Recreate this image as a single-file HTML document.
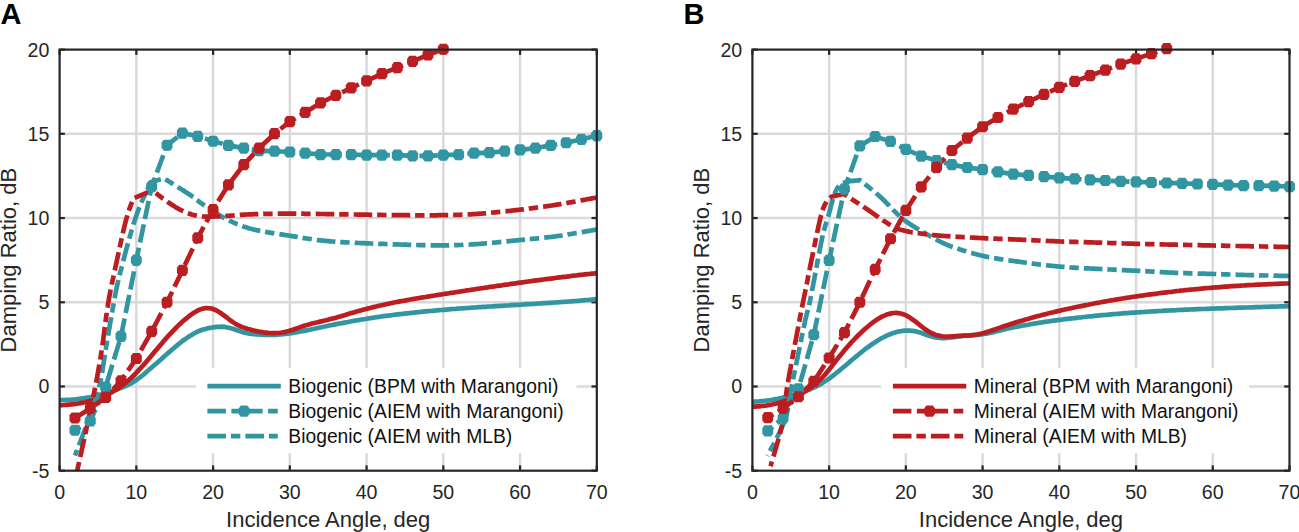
<!DOCTYPE html><html><head><meta charset="utf-8"><style>html,body{margin:0;padding:0;background:#fff;width:1299px;height:532px;overflow:hidden}svg{display:block}</style></head><body><svg width="1299" height="532" viewBox="0 0 1299 532">
<style>text{font-family:"Liberation Sans",sans-serif;fill:#262626}.tk{font-size:19.6px}.lb{font-size:22px}.lg{font-size:19.3px;fill:#111}.hd{font-size:29px;font-weight:bold;fill:#000}</style>
<defs><clipPath id="ca"><rect x="59.6" y="49.6" width="537.1999999999999" height="421.09999999999997"/></clipPath><clipPath id="cb"><rect x="752.4" y="49.6" width="537.1" height="421.09999999999997"/></clipPath></defs>
<rect width="1299" height="532" fill="#fff"/>
<line x1="136.34" y1="49.6" x2="136.34" y2="470.7" stroke="#dadada" stroke-width="2.5"/>
<line x1="213.09" y1="49.6" x2="213.09" y2="470.7" stroke="#dadada" stroke-width="2.5"/>
<line x1="289.83" y1="49.6" x2="289.83" y2="470.7" stroke="#dadada" stroke-width="2.5"/>
<line x1="366.57" y1="49.6" x2="366.57" y2="470.7" stroke="#dadada" stroke-width="2.5"/>
<line x1="443.31" y1="49.6" x2="443.31" y2="470.7" stroke="#dadada" stroke-width="2.5"/>
<line x1="520.06" y1="49.6" x2="520.06" y2="470.7" stroke="#dadada" stroke-width="2.5"/>
<line x1="59.6" y1="386.48" x2="596.8" y2="386.48" stroke="#dadada" stroke-width="2.5"/>
<line x1="59.6" y1="302.26" x2="596.8" y2="302.26" stroke="#dadada" stroke-width="2.5"/>
<line x1="59.6" y1="218.04" x2="596.8" y2="218.04" stroke="#dadada" stroke-width="2.5"/>
<line x1="59.6" y1="133.82" x2="596.8" y2="133.82" stroke="#dadada" stroke-width="2.5"/>
<line x1="59.60" y1="470.7" x2="59.60" y2="465.4" stroke="#262626" stroke-width="2.2"/>
<line x1="59.60" y1="49.6" x2="59.60" y2="54.9" stroke="#262626" stroke-width="2.2"/>
<line x1="136.34" y1="470.7" x2="136.34" y2="465.4" stroke="#262626" stroke-width="2.2"/>
<line x1="136.34" y1="49.6" x2="136.34" y2="54.9" stroke="#262626" stroke-width="2.2"/>
<line x1="213.09" y1="470.7" x2="213.09" y2="465.4" stroke="#262626" stroke-width="2.2"/>
<line x1="213.09" y1="49.6" x2="213.09" y2="54.9" stroke="#262626" stroke-width="2.2"/>
<line x1="289.83" y1="470.7" x2="289.83" y2="465.4" stroke="#262626" stroke-width="2.2"/>
<line x1="289.83" y1="49.6" x2="289.83" y2="54.9" stroke="#262626" stroke-width="2.2"/>
<line x1="366.57" y1="470.7" x2="366.57" y2="465.4" stroke="#262626" stroke-width="2.2"/>
<line x1="366.57" y1="49.6" x2="366.57" y2="54.9" stroke="#262626" stroke-width="2.2"/>
<line x1="443.31" y1="470.7" x2="443.31" y2="465.4" stroke="#262626" stroke-width="2.2"/>
<line x1="443.31" y1="49.6" x2="443.31" y2="54.9" stroke="#262626" stroke-width="2.2"/>
<line x1="520.06" y1="470.7" x2="520.06" y2="465.4" stroke="#262626" stroke-width="2.2"/>
<line x1="520.06" y1="49.6" x2="520.06" y2="54.9" stroke="#262626" stroke-width="2.2"/>
<line x1="596.80" y1="470.7" x2="596.80" y2="465.4" stroke="#262626" stroke-width="2.2"/>
<line x1="596.80" y1="49.6" x2="596.80" y2="54.9" stroke="#262626" stroke-width="2.2"/>
<line x1="59.6" y1="470.70" x2="64.9" y2="470.70" stroke="#262626" stroke-width="2.2"/>
<line x1="596.8" y1="470.70" x2="591.5" y2="470.70" stroke="#262626" stroke-width="2.2"/>
<line x1="59.6" y1="386.48" x2="64.9" y2="386.48" stroke="#262626" stroke-width="2.2"/>
<line x1="596.8" y1="386.48" x2="591.5" y2="386.48" stroke="#262626" stroke-width="2.2"/>
<line x1="59.6" y1="302.26" x2="64.9" y2="302.26" stroke="#262626" stroke-width="2.2"/>
<line x1="596.8" y1="302.26" x2="591.5" y2="302.26" stroke="#262626" stroke-width="2.2"/>
<line x1="59.6" y1="218.04" x2="64.9" y2="218.04" stroke="#262626" stroke-width="2.2"/>
<line x1="596.8" y1="218.04" x2="591.5" y2="218.04" stroke="#262626" stroke-width="2.2"/>
<line x1="59.6" y1="133.82" x2="64.9" y2="133.82" stroke="#262626" stroke-width="2.2"/>
<line x1="596.8" y1="133.82" x2="591.5" y2="133.82" stroke="#262626" stroke-width="2.2"/>
<line x1="59.6" y1="49.60" x2="64.9" y2="49.60" stroke="#262626" stroke-width="2.2"/>
<line x1="596.8" y1="49.60" x2="591.5" y2="49.60" stroke="#262626" stroke-width="2.2"/>
<g clip-path="url(#ca)" fill="none" stroke-width="4.7" stroke-linejoin="round">
<path d="M59.6,400.0 L61.9,400.0 L64.2,400.0 L66.5,399.9 L68.9,399.8 L71.2,399.7 L73.5,399.5 L75.8,399.3 L78.1,399.0 L80.4,398.7 L82.8,398.4 L85.1,398.0 L87.4,397.6 L89.7,397.2 L92.0,396.7 L94.3,396.1 L96.6,395.6 L99.0,395.0 L101.3,394.4 L103.6,393.7 L105.9,393.0 L108.2,392.3 L110.5,391.6 L112.9,390.8 L115.2,390.0 L117.5,389.2 L119.8,388.4 L122.1,387.5 L124.4,386.5 L126.8,385.5 L129.1,384.4 L131.4,383.1 L133.7,381.8 L136.0,380.2 L138.3,378.6 L140.6,376.9 L143.0,375.0 L145.3,373.1 L147.6,371.1 L149.9,369.1 L152.2,367.1 L154.5,365.1 L156.9,363.0 L159.2,360.9 L161.5,358.9 L163.8,356.8 L166.1,354.8 L168.4,352.7 L170.7,350.7 L173.1,348.7 L175.4,346.8 L177.7,344.9 L180.0,343.0 L182.3,341.2 L184.6,339.5 L187.0,337.9 L189.3,336.3 L191.6,334.9 L193.9,333.5 L196.2,332.3 L198.5,331.2 L200.8,330.3 L203.2,329.5 L205.5,328.9 L207.8,328.3 L210.1,327.9 L212.4,327.5 L214.7,327.2 L217.1,326.9 L219.4,326.8 L221.7,326.7 L224.0,326.9 L226.3,327.2 L228.6,327.7 L230.9,328.3 L233.3,329.0 L235.6,329.7 L237.9,330.5 L240.2,331.3 L242.5,332.0 L244.8,332.7 L247.2,333.3 L249.5,333.7 L251.8,334.0 L254.1,334.2 L256.4,334.4 L258.7,334.5 L261.0,334.6 L263.4,334.7 L265.7,334.8 L268.0,334.9 L270.3,334.9 L272.6,334.9 L274.9,334.8 L277.3,334.7 L279.6,334.5 L281.9,334.3 L284.2,334.0 L286.5,333.8 L288.8,333.5 L291.2,333.1 L293.5,332.8 L295.8,332.4 L298.1,332.0 L300.4,331.5 L302.7,331.1 L305.0,330.6 L307.4,330.1 L309.7,329.7 L312.0,329.2 L314.3,328.7 L316.6,328.2 L318.9,327.7 L321.3,327.2 L323.6,326.7 L325.9,326.3 L328.2,325.8 L330.5,325.3 L332.8,324.9 L335.1,324.4 L337.5,323.9 L339.8,323.5 L342.1,323.1 L344.4,322.6 L346.7,322.2 L349.0,321.8 L351.4,321.3 L353.7,320.9 L356.0,320.5 L358.3,320.1 L360.6,319.7 L362.9,319.3 L365.2,319.0 L367.6,318.6 L369.9,318.2 L372.2,317.9 L374.5,317.5 L376.8,317.2 L379.1,316.9 L381.5,316.5 L383.8,316.2 L386.1,315.9 L388.4,315.6 L390.7,315.3 L393.0,315.0 L395.3,314.7 L397.7,314.4 L400.0,314.1 L402.3,313.9 L404.6,313.6 L406.9,313.3 L409.2,313.1 L411.6,312.8 L413.9,312.6 L416.2,312.3 L418.5,312.1 L420.8,311.9 L423.1,311.6 L425.5,311.4 L427.8,311.2 L430.1,311.0 L432.4,310.8 L434.7,310.6 L437.0,310.4 L439.3,310.2 L441.7,310.0 L444.0,309.8 L446.3,309.6 L448.6,309.4 L450.9,309.2 L453.2,309.0 L455.6,308.9 L457.9,308.7 L460.2,308.5 L462.5,308.3 L464.8,308.2 L467.1,308.0 L469.4,307.9 L471.8,307.7 L474.1,307.5 L476.4,307.4 L478.7,307.2 L481.0,307.1 L483.3,306.9 L485.7,306.8 L488.0,306.6 L490.3,306.5 L492.6,306.3 L494.9,306.2 L497.2,306.1 L499.5,305.9 L501.9,305.8 L504.2,305.6 L506.5,305.5 L508.8,305.4 L511.1,305.2 L513.4,305.1 L515.8,304.9 L518.1,304.8 L520.4,304.7 L522.7,304.5 L525.0,304.4 L527.3,304.2 L529.6,304.1 L532.0,304.0 L534.3,303.8 L536.6,303.7 L538.9,303.5 L541.2,303.4 L543.5,303.2 L545.9,303.1 L548.2,302.9 L550.5,302.8 L552.8,302.6 L555.1,302.5 L557.4,302.3 L559.8,302.2 L562.1,302.0 L564.4,301.8 L566.7,301.7 L569.0,301.5 L571.3,301.3 L573.6,301.1 L576.0,301.0 L578.3,300.8 L580.6,300.6 L582.9,300.4 L585.2,300.2 L587.5,300.0 L589.9,299.8 L592.2,299.6 L594.5,299.4 L596.8,299.2" stroke="#3195a2"/>
<path d="M59.6,405.3 L61.9,405.2 L64.2,405.0 L66.5,404.8 L68.9,404.6 L71.2,404.4 L73.5,404.1 L75.8,403.8 L78.1,403.5 L80.4,403.1 L82.8,402.6 L85.1,402.2 L87.4,401.6 L89.7,401.1 L92.0,400.4 L94.3,399.7 L96.6,399.0 L99.0,398.1 L101.3,397.2 L103.6,396.3 L105.9,395.2 L108.2,394.1 L110.5,392.9 L112.9,391.6 L115.2,390.2 L117.5,388.7 L119.8,387.1 L122.1,385.5 L124.4,383.7 L126.8,381.8 L129.1,379.8 L131.4,377.7 L133.7,375.5 L136.0,373.2 L138.3,370.7 L140.6,368.2 L143.0,365.6 L145.3,362.9 L147.6,360.2 L149.9,357.5 L152.2,354.7 L154.5,351.9 L156.9,349.2 L159.2,346.4 L161.5,343.7 L163.8,341.0 L166.1,338.4 L168.4,335.8 L170.7,333.3 L173.1,330.8 L175.4,328.5 L177.7,326.2 L180.0,323.9 L182.3,321.8 L184.6,319.8 L187.0,317.9 L189.3,316.0 L191.6,314.3 L193.9,312.8 L196.2,311.4 L198.5,310.2 L200.8,309.2 L203.2,308.5 L205.5,308.1 L207.8,308.0 L210.1,308.3 L212.4,308.8 L214.7,309.7 L217.1,310.8 L219.4,312.2 L221.7,313.8 L224.0,315.5 L226.3,317.2 L228.6,319.0 L230.9,320.8 L233.3,322.4 L235.6,323.9 L237.9,325.1 L240.2,326.2 L242.5,327.1 L244.8,327.9 L247.2,328.7 L249.5,329.3 L251.8,329.9 L254.1,330.5 L256.4,331.0 L258.7,331.5 L261.0,331.9 L263.4,332.3 L265.7,332.6 L268.0,332.9 L270.3,333.0 L272.6,333.1 L274.9,333.1 L277.3,333.0 L279.6,332.8 L281.9,332.5 L284.2,332.1 L286.5,331.6 L288.8,331.0 L291.2,330.2 L293.5,329.5 L295.8,328.7 L298.1,327.9 L300.4,327.1 L302.7,326.3 L305.0,325.6 L307.4,324.9 L309.7,324.2 L312.0,323.6 L314.3,323.0 L316.6,322.5 L318.9,321.9 L321.3,321.4 L323.6,320.8 L325.9,320.3 L328.2,319.7 L330.5,319.1 L332.8,318.5 L335.1,317.9 L337.5,317.2 L339.8,316.6 L342.1,315.9 L344.4,315.2 L346.7,314.5 L349.0,313.8 L351.4,313.1 L353.7,312.4 L356.0,311.7 L358.3,311.1 L360.6,310.4 L362.9,309.8 L365.2,309.2 L367.6,308.6 L369.9,308.0 L372.2,307.4 L374.5,306.9 L376.8,306.3 L379.1,305.8 L381.5,305.3 L383.8,304.8 L386.1,304.3 L388.4,303.8 L390.7,303.3 L393.0,302.8 L395.3,302.3 L397.7,301.9 L400.0,301.4 L402.3,301.0 L404.6,300.6 L406.9,300.1 L409.2,299.7 L411.6,299.3 L413.9,298.9 L416.2,298.5 L418.5,298.1 L420.8,297.7 L423.1,297.3 L425.5,297.0 L427.8,296.6 L430.1,296.2 L432.4,295.8 L434.7,295.5 L437.0,295.1 L439.3,294.7 L441.7,294.4 L444.0,294.0 L446.3,293.6 L448.6,293.3 L450.9,292.9 L453.2,292.6 L455.6,292.2 L457.9,291.9 L460.2,291.5 L462.5,291.1 L464.8,290.8 L467.1,290.4 L469.4,290.1 L471.8,289.7 L474.1,289.4 L476.4,289.0 L478.7,288.7 L481.0,288.3 L483.3,288.0 L485.7,287.6 L488.0,287.3 L490.3,286.9 L492.6,286.6 L494.9,286.3 L497.2,285.9 L499.5,285.6 L501.9,285.3 L504.2,284.9 L506.5,284.6 L508.8,284.3 L511.1,283.9 L513.4,283.6 L515.8,283.3 L518.1,282.9 L520.4,282.6 L522.7,282.3 L525.0,282.0 L527.3,281.7 L529.6,281.3 L532.0,281.0 L534.3,280.7 L536.6,280.4 L538.9,280.1 L541.2,279.8 L543.5,279.5 L545.9,279.2 L548.2,278.9 L550.5,278.6 L552.8,278.3 L555.1,278.0 L557.4,277.7 L559.8,277.4 L562.1,277.1 L564.4,276.8 L566.7,276.6 L569.0,276.3 L571.3,276.0 L573.6,275.7 L576.0,275.5 L578.3,275.2 L580.6,274.9 L582.9,274.7 L585.2,274.4 L587.5,274.1 L589.9,273.9 L592.2,273.6 L594.5,273.4 L596.8,273.1" stroke="#bb1d21"/>
<path d="M74.9,455.5 L75.3,454.6 L75.7,453.7 L76.0,452.7 L76.4,451.8 L76.8,450.9 L77.1,449.9 L77.5,449.0 L77.9,448.1 L78.2,447.1 L78.6,446.2 L78.9,445.3 L79.3,444.3 L79.7,443.4 L80.0,442.5 L80.4,441.5 L80.7,440.6 L81.1,439.7 L81.5,438.7 L81.8,437.8 L82.2,436.9 L82.5,435.9 L82.9,435.0 L83.2,434.0 L83.6,433.1 L83.9,432.2 L84.3,431.2 L84.6,430.3 L85.0,429.3 L85.3,428.4 L85.7,427.5 L86.0,426.5 L86.3,425.6 L86.7,424.6 L87.0,423.7 L87.3,422.7 L87.7,421.8 L88.0,420.9 L88.4,419.9 L88.7,419.0 L89.0,418.0 L89.4,417.1 L89.7,416.1 L90.0,415.2 L90.4,414.3 L90.7,413.3 L91.1,412.4 L91.4,411.4 L91.7,410.5 L92.1,409.5 L92.4,408.6 L92.7,407.6 L93.0,406.7 L93.4,405.7 L93.7,404.8 L94.0,403.8 L94.3,402.9 L94.7,401.9 L95.0,401.0 L95.3,400.0 L95.6,399.1 L95.9,398.1 L96.2,397.2 L96.5,396.2 L96.8,395.3 L97.1,394.3 L97.4,393.3 L97.6,392.4 L97.9,391.4 L98.2,390.5 L98.4,389.5 L98.7,388.5 L99.0,387.6 L99.2,386.6 L99.4,385.6 L99.7,384.6 L99.9,383.7 L100.1,382.7 L100.4,381.7 L100.6,380.7 L100.8,379.7 L101.0,378.8 L101.2,377.8 L101.3,376.8 L101.5,375.8 L101.7,374.8 L101.9,373.8 L102.1,372.9 L102.2,371.9 L102.4,370.9 L102.5,369.9 L102.7,368.9 L102.9,367.9 L103.0,366.9 L103.2,365.9 L103.3,364.9 L103.5,363.9 L103.6,363.0 L103.8,362.0 L103.9,361.0 L104.1,360.0 L104.2,359.0 L104.4,358.0 L104.5,357.0 L104.7,356.0 L104.8,355.0 L105.0,354.0 L105.1,353.1 L105.3,352.1 L105.4,351.1 L105.6,350.1 L105.8,349.1 L105.9,348.1 L106.1,347.1 L106.3,346.1 L106.4,345.1 L106.6,344.2 L106.8,343.2 L106.9,342.2 L107.1,341.2 L107.3,340.2 L107.4,339.2 L107.6,338.2 L107.8,337.2 L107.9,336.3 L108.1,335.3 L108.3,334.3 L108.5,333.3 L108.6,332.3 L108.8,331.3 L109.0,330.3 L109.1,329.3 L109.3,328.4 L109.5,327.4 L109.6,326.4 L109.8,325.4 L110.0,324.4 L110.1,323.4 L110.3,322.4 L110.5,321.4 L110.7,320.5 L110.8,319.5 L111.0,318.5 L111.2,317.5 L111.3,316.5 L111.5,315.5 L111.7,314.5 L111.9,313.5 L112.0,312.6 L112.2,311.6 L112.4,310.6 L112.5,309.6 L112.7,308.6 L112.9,307.6 L113.1,306.6 L113.2,305.7 L113.4,304.7 L113.6,303.7 L113.8,302.7 L114.0,301.7 L114.1,300.7 L114.3,299.7 L114.5,298.8 L114.7,297.8 L114.9,296.8 L115.0,295.8 L115.2,294.8 L115.4,293.8 L115.6,292.8 L115.8,291.9 L116.0,290.9 L116.2,289.9 L116.4,288.9 L116.6,287.9 L116.8,287.0 L117.0,286.0 L117.2,285.0 L117.5,284.0 L117.7,283.1 L117.9,282.1 L118.2,281.1 L118.4,280.1 L118.6,279.2 L118.9,278.2 L119.1,277.2 L119.4,276.2 L119.6,275.3 L119.8,274.3 L120.1,273.3 L120.3,272.3 L120.6,271.4 L120.8,270.4 L121.1,269.4 L121.3,268.5 L121.6,267.5 L121.8,266.5 L122.1,265.6 L122.3,264.6 L122.6,263.6 L122.8,262.6 L123.1,261.7 L123.3,260.7 L123.6,259.7 L123.8,258.8 L124.1,257.8 L124.3,256.8 L124.6,255.9 L124.8,254.9 L125.1,253.9 L125.3,252.9 L125.6,252.0 L125.9,251.0 L126.1,250.0 L126.4,249.1 L126.6,248.1 L126.9,247.1 L127.2,246.2 L127.4,245.2 L127.7,244.2 L127.9,243.3 L128.2,242.3 L128.5,241.3 L128.7,240.4 L129.0,239.4 L129.3,238.4 L129.6,237.5 L129.8,236.5 L130.1,235.6 L130.4,234.6 L130.7,233.6 L130.9,232.7 L131.2,231.7 L131.5,230.7 L131.8,229.8 L132.1,228.8 L132.4,227.9 L132.7,226.9 L133.0,226.0 L133.3,225.0 L133.6,224.0 L133.9,223.1 L134.2,222.1 L134.5,221.2 L134.8,220.2 L135.1,219.3 L135.4,218.3 L135.8,217.4 L136.1,216.4 L136.4,215.5 L136.7,214.5 L137.1,213.6 L137.4,212.6 L137.7,211.7 L138.1,210.8 L138.4,209.8 L138.8,208.9 L139.1,207.9 L139.5,207.0 L139.9,206.1 L140.2,205.1 L140.6,204.2 L141.0,203.3 L141.4,202.4 L141.8,201.5 L142.2,200.5 L142.6,199.6 L143.0,198.7 L143.5,197.8 L143.9,196.9 L144.3,196.0 L144.8,195.1 L145.2,194.2 L145.6,193.3 L146.1,192.4 L146.5,191.5 L146.9,190.6 L147.3,189.7 L147.7,188.8 L148.1,187.8 L148.5,186.9 L148.9,186.0 L149.3,185.1 L149.7,184.2 L150.1,183.2 L150.5,182.3 L164.0,178.3 L164.8,178.8 L165.7,179.4 L166.5,179.9 L167.4,180.4 L168.2,181.0 L169.0,181.5 L169.9,182.0 L170.7,182.6 L171.6,183.1 L172.4,183.6 L173.3,184.2 L174.1,184.7 L175.0,185.2 L175.8,185.8 L176.7,186.3 L177.5,186.8 L178.4,187.4 L179.2,187.9 L180.0,188.4 L180.9,189.0 L181.7,189.5 L182.6,190.0 L183.4,190.6 L184.3,191.1 L185.1,191.7 L185.9,192.2 L186.8,192.7 L187.6,193.3 L188.5,193.8 L189.3,194.4 L190.2,194.9 L191.0,195.5 L191.8,196.0 L192.6,196.6 L193.5,197.1 L194.3,197.7 L195.1,198.3 L195.8,198.9 L196.6,199.6 L197.4,200.2 L198.1,200.8 L198.9,201.5 L199.7,202.1 L200.5,202.7 L201.3,203.2 L202.1,203.8 L203.0,204.4 L203.8,204.9 L204.6,205.5 L205.5,206.0 L206.3,206.5 L207.2,207.1 L208.0,207.6 L208.9,208.2 L209.7,208.7 L210.5,209.2 L211.4,209.8 L212.2,210.3 L213.0,210.9 L213.9,211.5 L214.7,212.0 L215.5,212.6 L216.3,213.2 L217.2,213.7 L218.0,214.3 L218.8,214.8 L219.7,215.4 L220.5,215.9 L221.4,216.4 L222.2,216.9 L223.1,217.4 L224.0,217.9 L224.9,218.4 L225.8,218.8 L226.7,219.3 L227.5,219.7 L228.4,220.1 L229.3,220.6 L230.3,221.0 L231.2,221.4 L232.1,221.8 L233.0,222.3 L233.9,222.7 L234.8,223.1 L235.7,223.5 L236.6,223.9 L237.6,224.2 L238.5,224.6 L239.4,225.0 L240.4,225.3 L241.3,225.7 L242.2,226.0 L243.2,226.4 L244.1,226.7 L245.1,227.0 L246.0,227.3 L247.0,227.6 L247.9,227.9 L248.9,228.2 L249.8,228.5 L250.8,228.8 L251.8,229.0 L252.7,229.3 L253.7,229.5 L254.7,229.7 L255.7,230.0 L256.6,230.2 L257.6,230.4 L258.6,230.6 L259.6,230.8 L260.6,231.0 L261.5,231.2 L262.5,231.4 L263.5,231.5 L264.5,231.7 L265.5,231.9 L266.5,232.1 L267.4,232.2 L268.4,232.4 L269.4,232.6 L270.4,232.7 L271.4,232.9 L272.4,233.1 L273.4,233.2 L274.4,233.4 L275.3,233.5 L276.3,233.7 L277.3,233.8 L278.3,234.0 L279.3,234.1 L280.3,234.3 L281.3,234.4 L282.3,234.6 L283.3,234.7 L284.2,234.9 L285.2,235.0 L286.2,235.2 L287.2,235.3 L288.2,235.5 L289.2,235.6 L290.2,235.8 L291.2,235.9 L292.1,236.1 L293.1,236.3 L294.1,236.4 L295.1,236.6 L296.1,236.8 L297.1,236.9 L298.1,237.1 L299.1,237.2 L300.0,237.4 L301.0,237.6 L302.0,237.7 L303.0,237.9 L304.0,238.1 L305.0,238.2 L306.0,238.4 L307.0,238.5 L307.9,238.7 L308.9,238.8 L309.9,239.0 L310.9,239.1 L311.9,239.3 L312.9,239.4 L313.9,239.6 L314.9,239.7 L315.9,239.8 L316.9,240.0 L317.8,240.1 L318.8,240.2 L319.8,240.3 L320.8,240.4 L321.8,240.5 L322.8,240.6 L323.8,240.8 L324.8,240.9 L325.8,240.9 L326.8,241.0 L327.8,241.1 L328.8,241.2 L329.8,241.3 L330.8,241.4 L331.8,241.5 L332.8,241.5 L333.8,241.6 L334.8,241.7 L335.8,241.8 L336.8,241.8 L337.8,241.9 L338.8,242.0 L339.8,242.0 L340.8,242.1 L341.8,242.1 L342.8,242.2 L343.8,242.3 L344.8,242.3 L345.8,242.4 L346.8,242.4 L347.8,242.5 L348.8,242.5 L349.8,242.6 L350.8,242.6 L351.8,242.7 L352.8,242.7 L353.7,242.8 L354.7,242.8 L355.7,242.9 L356.7,242.9 L357.7,243.0 L358.7,243.0 L359.7,243.0 L360.7,243.1 L361.7,243.1 L362.7,243.2 L363.7,243.2 L364.7,243.2 L365.7,243.3 L366.7,243.3 L367.7,243.4 L368.7,243.4 L369.7,243.4 L370.7,243.5 L371.7,243.5 L372.7,243.6 L373.7,243.6 L374.7,243.6 L375.7,243.7 L376.7,243.7 L377.7,243.7 L378.7,243.8 L379.7,243.8 L380.7,243.8 L381.7,243.9 L382.7,243.9 L383.7,243.9 L384.7,244.0 L385.7,244.0 L386.7,244.1 L387.7,244.1 L388.7,244.1 L389.7,244.2 L390.7,244.2 L391.7,244.2 L392.7,244.3 L393.7,244.3 L394.7,244.3 L395.7,244.4 L396.7,244.4 L397.7,244.4 L398.7,244.5 L399.7,244.5 L400.7,244.5 L401.7,244.6 L402.7,244.6 L403.7,244.6 L404.7,244.7 L405.7,244.7 L406.7,244.7 L407.7,244.8 L408.7,244.8 L409.7,244.8 L410.7,244.8 L411.7,244.9 L412.7,244.9 L413.7,244.9 L414.7,245.0 L415.7,245.0 L416.7,245.0 L417.7,245.0 L418.7,245.1 L419.7,245.1 L420.7,245.1 L421.7,245.1 L422.7,245.2 L423.7,245.2 L424.7,245.2 L425.7,245.2 L426.7,245.2 L427.7,245.2 L428.7,245.3 L429.7,245.3 L430.7,245.3 L431.7,245.3 L432.7,245.3 L433.7,245.3 L434.7,245.3 L435.7,245.3 L436.7,245.3 L437.7,245.3 L438.7,245.3 L439.7,245.3 L440.7,245.3 L441.7,245.3 L442.7,245.3 L443.7,245.3 L444.7,245.3 L445.7,245.3 L446.7,245.3 L447.7,245.3 L448.7,245.3 L449.7,245.2 L450.7,245.2 L451.7,245.2 L452.7,245.2 L453.7,245.2 L454.7,245.1 L455.7,245.1 L456.7,245.1 L457.7,245.1 L458.7,245.0 L459.7,245.0 L460.7,245.0 L461.7,244.9 L462.7,244.9 L463.7,244.8 L464.7,244.8 L465.7,244.7 L466.7,244.7 L467.7,244.6 L468.7,244.6 L469.7,244.5 L470.7,244.5 L471.7,244.4 L472.7,244.4 L473.7,244.3 L474.7,244.2 L475.7,244.2 L476.7,244.1 L477.7,244.0 L478.7,244.0 L479.7,243.9 L480.7,243.8 L481.7,243.7 L482.7,243.7 L483.7,243.6 L484.7,243.5 L485.7,243.4 L486.7,243.3 L487.7,243.3 L488.7,243.2 L489.7,243.1 L490.7,243.0 L491.7,242.9 L492.7,242.8 L493.7,242.7 L494.7,242.6 L495.7,242.5 L496.7,242.4 L497.6,242.3 L498.6,242.2 L499.6,242.1 L500.6,242.0 L501.6,241.9 L502.6,241.8 L503.6,241.7 L504.6,241.6 L505.6,241.5 L506.6,241.4 L507.6,241.3 L508.6,241.2 L509.6,241.1 L510.6,241.0 L511.6,240.9 L512.6,240.8 L513.6,240.7 L514.6,240.6 L515.6,240.5 L516.6,240.4 L517.5,240.3 L518.5,240.2 L519.5,240.1 L520.5,240.0 L521.5,239.9 L522.5,239.8 L523.5,239.7 L524.5,239.6 L525.5,239.5 L526.5,239.4 L527.5,239.3 L528.5,239.2 L529.5,239.1 L530.5,239.0 L531.5,238.9 L532.5,238.8 L533.5,238.7 L534.5,238.6 L535.5,238.6 L536.5,238.5 L537.5,238.4 L538.5,238.3 L539.5,238.2 L540.4,238.1 L541.4,238.0 L542.4,237.9 L543.4,237.7 L544.4,237.6 L545.4,237.5 L546.4,237.4 L547.4,237.3 L548.4,237.2 L549.4,237.1 L550.4,237.0 L551.4,236.9 L552.4,236.7 L553.4,236.6 L554.4,236.5 L555.4,236.4 L556.3,236.2 L557.3,236.1 L558.3,236.0 L559.3,235.8 L560.3,235.7 L561.3,235.5 L562.3,235.4 L563.3,235.2 L564.3,235.1 L565.3,234.9 L566.2,234.8 L567.2,234.6 L568.2,234.4 L569.2,234.3 L570.2,234.1 L571.2,234.0 L572.2,233.8 L573.2,233.6 L574.1,233.5 L575.1,233.3 L576.1,233.1 L577.1,233.0 L578.1,232.8 L579.1,232.6 L580.1,232.4 L581.0,232.3 L582.0,232.1 L583.0,231.9 L584.0,231.8 L585.0,231.6 L586.0,231.4 L586.9,231.2 L587.9,231.1 L588.9,230.9 L589.9,230.7 L590.9,230.5 L591.9,230.4 L592.9,230.2 L593.8,230.0 L594.8,229.8 L595.8,229.7 L596.8,229.5" stroke="#3195a2" stroke-dasharray="18.6 4.9 9.4 5.1" stroke-dashoffset="-11"/>
<path d="M75.3,479.1 L75.5,478.1 L75.8,477.2 L76.0,476.2 L76.2,475.2 L76.4,474.2 L76.6,473.3 L76.8,472.3 L77.1,471.3 L77.3,470.3 L77.5,469.4 L77.7,468.4 L77.9,467.4 L78.1,466.4 L78.4,465.4 L78.6,464.5 L78.8,463.5 L79.0,462.5 L79.2,461.5 L79.4,460.6 L79.7,459.6 L79.9,458.6 L80.1,457.6 L80.3,456.7 L80.5,455.7 L80.7,454.7 L81.0,453.7 L81.2,452.8 L81.4,451.8 L81.6,450.8 L81.8,449.8 L82.0,448.8 L82.3,447.9 L82.5,446.9 L82.7,445.9 L82.9,444.9 L83.1,444.0 L83.3,443.0 L83.5,442.0 L83.8,441.0 L84.0,440.1 L84.2,439.1 L84.4,438.1 L84.6,437.1 L84.8,436.1 L85.0,435.2 L85.3,434.2 L85.5,433.2 L85.7,432.2 L85.9,431.3 L86.1,430.3 L86.3,429.3 L86.5,428.3 L86.7,427.3 L87.0,426.4 L87.2,425.4 L87.4,424.4 L87.6,423.4 L87.8,422.5 L88.0,421.5 L88.2,420.5 L88.4,419.5 L88.7,418.5 L88.9,417.6 L89.1,416.6 L89.3,415.6 L89.5,414.6 L89.7,413.7 L89.9,412.7 L90.1,411.7 L90.3,410.7 L90.6,409.7 L90.8,408.8 L91.0,407.8 L91.2,406.8 L91.4,405.8 L91.6,404.9 L91.8,403.9 L92.0,402.9 L92.2,401.9 L92.4,400.9 L92.6,400.0 L92.8,399.0 L93.0,398.0 L93.2,397.0 L93.4,396.0 L93.6,395.1 L93.8,394.1 L94.0,393.1 L94.2,392.1 L94.4,391.1 L94.6,390.2 L94.8,389.2 L95.0,388.2 L95.2,387.2 L95.4,386.2 L95.6,385.2 L95.8,384.3 L96.0,383.3 L96.2,382.3 L96.3,381.3 L96.5,380.3 L96.7,379.4 L96.9,378.4 L97.1,377.4 L97.3,376.4 L97.4,375.4 L97.6,374.4 L97.8,373.4 L98.0,372.5 L98.2,371.5 L98.3,370.5 L98.5,369.5 L98.7,368.5 L98.8,367.5 L99.0,366.6 L99.2,365.6 L99.4,364.6 L99.5,363.6 L99.7,362.6 L99.9,361.6 L100.0,360.6 L100.2,359.6 L100.3,358.7 L100.5,357.7 L100.7,356.7 L100.8,355.7 L101.0,354.7 L101.1,353.7 L101.3,352.7 L101.4,351.7 L101.6,350.8 L101.7,349.8 L101.9,348.8 L102.0,347.8 L102.2,346.8 L102.3,345.8 L102.5,344.8 L102.6,343.8 L102.8,342.8 L102.9,341.8 L103.0,340.9 L103.2,339.9 L103.3,338.9 L103.4,337.9 L103.6,336.9 L103.7,335.9 L103.8,334.9 L103.9,333.9 L104.1,332.9 L104.2,331.9 L104.3,330.9 L104.4,329.9 L104.6,328.9 L104.7,328.0 L104.8,327.0 L105.0,326.0 L105.1,325.0 L105.2,324.0 L105.3,323.0 L105.5,322.0 L105.6,321.0 L105.7,320.0 L105.9,319.0 L106.0,318.0 L106.1,317.0 L106.3,316.1 L106.4,315.1 L106.5,314.1 L106.7,313.1 L106.8,312.1 L107.0,311.1 L107.1,310.1 L107.3,309.1 L107.4,308.1 L107.6,307.1 L107.7,306.2 L107.9,305.2 L108.0,304.2 L108.2,303.2 L108.4,302.2 L108.5,301.2 L108.7,300.2 L108.9,299.3 L109.0,298.3 L109.2,297.3 L109.4,296.3 L109.6,295.3 L109.8,294.3 L110.0,293.3 L110.1,292.4 L110.3,291.4 L110.5,290.4 L110.7,289.4 L110.9,288.4 L111.1,287.5 L111.3,286.5 L111.5,285.5 L111.7,284.5 L111.9,283.5 L112.1,282.6 L112.3,281.6 L112.5,280.6 L112.7,279.6 L113.0,278.6 L113.2,277.7 L113.4,276.7 L113.6,275.7 L113.8,274.7 L114.0,273.8 L114.2,272.8 L114.4,271.8 L114.6,270.8 L114.9,269.8 L115.1,268.9 L115.3,267.9 L115.5,266.9 L115.7,265.9 L115.9,265.0 L116.1,264.0 L116.4,263.0 L116.6,262.0 L116.8,261.0 L117.0,260.1 L117.2,259.1 L117.4,258.1 L117.6,257.1 L117.8,256.2 L118.0,255.2 L118.3,254.2 L118.5,253.2 L118.7,252.2 L118.9,251.3 L119.1,250.3 L119.3,249.3 L119.5,248.3 L119.7,247.4 L119.9,246.4 L120.2,245.4 L120.4,244.4 L120.6,243.4 L120.8,242.5 L121.0,241.5 L121.2,240.5 L121.4,239.5 L121.7,238.6 L121.9,237.6 L122.1,236.6 L122.3,235.6 L122.5,234.7 L122.8,233.7 L123.0,232.7 L123.2,231.7 L123.4,230.8 L123.6,229.8 L123.9,228.8 L124.1,227.8 L124.3,226.9 L124.6,225.9 L124.8,224.9 L125.0,223.9 L125.3,223.0 L125.5,222.0 L125.8,221.0 L126.0,220.1 L126.3,219.1 L126.5,218.1 L126.8,217.2 L127.1,216.2 L127.4,215.2 L127.6,214.3 L127.9,213.3 L128.2,212.4 L128.5,211.4 L128.9,210.5 L129.2,209.5 L129.5,208.6 L129.9,207.6 L130.2,206.7 L130.6,205.8 L130.9,204.8 L131.3,203.9 L131.7,203.0 L132.0,202.1 L132.4,201.1 L132.8,200.2 L133.1,199.3 L133.5,198.3 L152.5,190.4 L153.2,191.0 L154.0,191.7 L154.8,192.3 L155.6,192.9 L156.4,193.5 L157.2,194.1 L158.0,194.8 L158.8,195.4 L159.6,196.0 L160.4,196.6 L161.2,197.2 L162.0,197.8 L162.8,198.4 L163.6,198.9 L164.4,199.5 L165.2,200.1 L166.0,200.7 L166.9,201.3 L167.7,201.9 L168.5,202.4 L169.3,203.0 L170.1,203.6 L171.0,204.1 L171.8,204.7 L172.6,205.3 L173.5,205.8 L174.3,206.3 L175.2,206.9 L176.0,207.4 L176.9,207.9 L177.8,208.4 L178.6,208.9 L179.5,209.3 L180.4,209.8 L181.3,210.2 L182.2,210.7 L183.1,211.1 L184.0,211.5 L185.0,211.9 L185.9,212.3 L186.8,212.7 L187.7,213.1 L188.7,213.4 L189.6,213.7 L190.6,214.1 L191.5,214.4 L192.5,214.7 L193.4,214.9 L194.4,215.2 L195.4,215.4 L196.3,215.6 L197.3,215.8 L198.3,216.0 L199.3,216.2 L200.3,216.3 L201.3,216.4 L202.3,216.5 L203.3,216.5 L204.3,216.6 L205.3,216.6 L206.3,216.7 L207.3,216.7 L208.3,216.7 L209.3,216.7 L210.3,216.7 L211.3,216.6 L212.3,216.6 L213.3,216.6 L214.3,216.6 L215.3,216.5 L216.3,216.5 L217.3,216.5 L218.3,216.4 L219.3,216.4 L220.3,216.3 L221.3,216.3 L222.3,216.2 L223.3,216.2 L224.3,216.1 L225.3,216.1 L226.3,216.0 L227.3,215.9 L228.3,215.8 L229.3,215.8 L230.3,215.7 L231.3,215.6 L232.3,215.5 L233.3,215.5 L234.3,215.4 L235.3,215.3 L236.3,215.2 L237.3,215.1 L238.3,215.1 L239.3,215.0 L240.3,214.9 L241.3,214.8 L242.3,214.8 L243.3,214.7 L244.3,214.6 L245.3,214.6 L246.3,214.5 L247.3,214.5 L248.3,214.4 L249.3,214.4 L250.3,214.3 L251.3,214.3 L252.3,214.3 L253.3,214.2 L254.3,214.2 L255.3,214.2 L256.3,214.1 L257.3,214.1 L258.3,214.1 L259.3,214.0 L260.3,214.0 L261.3,214.0 L262.3,214.0 L263.3,213.9 L264.3,213.9 L265.3,213.9 L266.3,213.9 L267.3,213.9 L268.3,213.8 L269.3,213.8 L270.3,213.8 L271.3,213.8 L272.3,213.8 L273.3,213.8 L274.3,213.8 L275.3,213.7 L276.3,213.7 L277.3,213.7 L278.3,213.7 L279.4,213.7 L280.4,213.7 L281.4,213.7 L282.4,213.7 L283.4,213.7 L284.4,213.7 L285.4,213.7 L286.4,213.7 L287.4,213.7 L288.4,213.7 L289.4,213.7 L290.4,213.7 L291.4,213.7 L292.4,213.7 L293.4,213.7 L294.4,213.7 L295.4,213.7 L296.4,213.7 L297.4,213.7 L298.4,213.7 L299.4,213.7 L300.4,213.7 L301.4,213.7 L302.4,213.7 L303.4,213.7 L304.4,213.8 L305.4,213.8 L306.4,213.8 L307.4,213.8 L308.4,213.8 L309.4,213.8 L310.4,213.8 L311.4,213.8 L312.4,213.9 L313.4,213.9 L314.4,213.9 L315.4,213.9 L316.4,213.9 L317.4,213.9 L318.4,213.9 L319.4,214.0 L320.4,214.0 L321.4,214.0 L322.4,214.0 L323.4,214.0 L324.4,214.0 L325.4,214.1 L326.5,214.1 L327.5,214.1 L328.5,214.1 L329.5,214.1 L330.5,214.1 L331.5,214.2 L332.5,214.2 L333.5,214.2 L334.5,214.2 L335.5,214.2 L336.5,214.2 L337.5,214.2 L338.5,214.3 L339.5,214.3 L340.5,214.3 L341.5,214.3 L342.5,214.3 L343.5,214.3 L344.5,214.3 L345.5,214.4 L346.5,214.4 L347.5,214.4 L348.5,214.4 L349.5,214.4 L350.5,214.4 L351.5,214.5 L352.5,214.5 L353.5,214.5 L354.5,214.5 L355.5,214.5 L356.5,214.5 L357.5,214.6 L358.5,214.6 L359.5,214.6 L360.5,214.6 L361.5,214.6 L362.5,214.6 L363.5,214.7 L364.5,214.7 L365.5,214.7 L366.5,214.7 L367.5,214.7 L368.5,214.7 L369.5,214.8 L370.5,214.8 L371.5,214.8 L372.5,214.8 L373.5,214.8 L374.5,214.8 L375.5,214.9 L376.6,214.9 L377.6,214.9 L378.6,214.9 L379.6,214.9 L380.6,214.9 L381.6,214.9 L382.6,215.0 L383.6,215.0 L384.6,215.0 L385.6,215.0 L386.6,215.0 L387.6,215.0 L388.6,215.0 L389.6,215.1 L390.6,215.1 L391.6,215.1 L392.6,215.1 L393.6,215.1 L394.6,215.1 L395.6,215.1 L396.6,215.1 L397.6,215.2 L398.6,215.2 L399.6,215.2 L400.6,215.2 L401.6,215.2 L402.6,215.2 L403.6,215.2 L404.6,215.2 L405.6,215.2 L406.6,215.2 L407.6,215.2 L408.6,215.2 L409.6,215.3 L410.6,215.3 L411.6,215.3 L412.6,215.3 L413.6,215.3 L414.6,215.3 L415.6,215.3 L416.6,215.3 L417.6,215.3 L418.6,215.3 L419.6,215.3 L420.6,215.3 L421.6,215.3 L422.6,215.3 L423.7,215.3 L424.7,215.3 L425.7,215.3 L426.7,215.3 L427.7,215.3 L428.7,215.3 L429.7,215.3 L430.7,215.3 L431.7,215.3 L432.7,215.3 L433.7,215.3 L434.7,215.3 L435.7,215.3 L436.7,215.3 L437.7,215.2 L438.7,215.2 L439.7,215.2 L440.7,215.2 L441.7,215.2 L442.7,215.2 L443.7,215.2 L444.7,215.1 L445.7,215.1 L446.7,215.1 L447.7,215.1 L448.7,215.1 L449.7,215.1 L450.7,215.0 L451.7,215.0 L452.7,215.0 L453.7,215.0 L454.7,214.9 L455.7,214.9 L456.7,214.9 L457.7,214.9 L458.7,214.8 L459.7,214.8 L460.7,214.8 L461.7,214.7 L462.7,214.7 L463.7,214.6 L464.7,214.6 L465.7,214.6 L466.7,214.5 L467.7,214.5 L468.7,214.4 L469.7,214.4 L470.7,214.3 L471.7,214.3 L472.7,214.2 L473.7,214.1 L474.7,214.1 L475.7,214.0 L476.7,213.9 L477.7,213.9 L478.7,213.8 L479.7,213.7 L480.7,213.7 L481.7,213.6 L482.7,213.5 L483.7,213.4 L484.7,213.3 L485.7,213.3 L486.7,213.2 L487.7,213.1 L488.7,213.0 L489.7,212.9 L490.7,212.8 L491.7,212.7 L492.7,212.6 L493.7,212.5 L494.7,212.4 L495.7,212.3 L496.7,212.2 L497.7,212.1 L498.7,212.0 L499.7,211.9 L500.7,211.8 L501.7,211.7 L502.7,211.6 L503.7,211.5 L504.7,211.4 L505.7,211.3 L506.7,211.2 L507.7,211.1 L508.7,211.0 L509.7,210.9 L510.7,210.8 L511.7,210.7 L512.7,210.5 L513.6,210.4 L514.6,210.3 L515.6,210.2 L516.6,210.1 L517.6,210.0 L518.6,209.9 L519.6,209.7 L520.6,209.6 L521.6,209.5 L522.6,209.4 L523.6,209.3 L524.6,209.1 L525.6,209.0 L526.6,208.9 L527.6,208.8 L528.6,208.7 L529.6,208.5 L530.6,208.4 L531.6,208.3 L532.6,208.2 L533.5,208.0 L534.5,207.9 L535.5,207.8 L536.5,207.6 L537.5,207.5 L538.5,207.4 L539.5,207.2 L540.5,207.1 L541.5,207.0 L542.5,206.8 L543.5,206.7 L544.5,206.5 L545.5,206.4 L546.5,206.3 L547.4,206.1 L548.4,206.0 L549.4,205.8 L550.4,205.7 L551.4,205.5 L552.4,205.4 L553.4,205.2 L554.4,205.1 L555.4,204.9 L556.4,204.8 L557.4,204.6 L558.3,204.4 L559.3,204.3 L560.3,204.1 L561.3,204.0 L562.3,203.8 L563.3,203.6 L564.3,203.5 L565.3,203.3 L566.2,203.1 L567.2,202.9 L568.2,202.8 L569.2,202.6 L570.2,202.4 L571.2,202.2 L572.2,202.1 L573.2,201.9 L574.1,201.7 L575.1,201.5 L576.1,201.3 L577.1,201.2 L578.1,201.0 L579.1,200.8 L580.1,200.6 L581.0,200.4 L582.0,200.3 L583.0,200.1 L584.0,199.9 L585.0,199.7 L586.0,199.5 L586.9,199.3 L587.9,199.1 L588.9,199.0 L589.9,198.8 L590.9,198.6 L591.9,198.4 L592.9,198.2 L593.8,198.0 L594.8,197.9 L595.8,197.7 L596.8,197.5" stroke="#bb1d21" stroke-dasharray="18.6 4.9 9.4 5.1" stroke-dashoffset="15.4"/>
<path d="M74.9,430.3 L90.3,421.0 L105.6,387.0 L121.0,336.3 L136.3,260.1 L151.7,186.5 L167.0,145.3 L182.4,133.1 L197.7,136.3 L213.1,141.2 L228.4,145.4 L243.8,148.1 L259.1,150.7 L274.5,151.2 L289.8,152.0 L305.2,153.2 L320.5,154.5 L335.9,154.5 L351.2,154.5 L366.6,155.2 L381.9,155.2 L397.3,155.2 L412.6,155.9 L428.0,155.9 L443.3,155.2 L458.7,154.5 L474.0,153.2 L489.4,152.7 L504.7,151.2 L520.1,149.8 L535.4,148.1 L550.8,145.4 L566.1,142.7 L581.5,139.4 L596.8,135.7" stroke="#3195a2" stroke-dasharray="18.5 5.5" stroke-dashoffset="12"/>
<path d="M74.9,418.0 L90.3,408.4 L105.6,397.4 L121.0,380.9 L136.3,358.5 L151.7,331.4 L167.0,302.3 L182.4,270.4 L197.7,237.9 L213.1,209.6 L228.4,184.9 L243.8,164.6 L259.1,148.1 L274.5,133.7 L289.8,121.7 L305.2,112.4 L320.5,102.8 L335.9,95.4 L351.2,87.8 L366.6,80.9 L381.9,73.7 L397.3,67.6 L412.6,61.4 L428.0,54.8 L443.3,49.3 L458.7,43.2 L474.0,37.5" stroke="#bb1d21" stroke-dasharray="18.5 5.5" stroke-dashoffset="0"/>
</g>
<polygon points="71.65,424.67 78.25,424.67 80.40,427.57 80.40,432.97 78.25,435.87 71.65,435.87 69.50,432.97 69.50,427.57" fill="#3195a2"/>
<polygon points="87.00,415.41 93.60,415.41 95.75,418.31 95.75,423.71 93.60,426.61 87.00,426.61 84.85,423.71 84.85,418.31" fill="#3195a2"/>
<polygon points="102.35,381.39 108.95,381.39 111.10,384.29 111.10,389.69 108.95,392.59 102.35,392.59 100.20,389.69 100.20,384.29" fill="#3195a2"/>
<polygon points="117.69,330.68 124.29,330.68 126.44,333.58 126.44,338.98 124.29,341.88 117.69,341.88 115.54,338.98 115.54,333.58" fill="#3195a2"/>
<polygon points="133.04,254.55 139.64,254.55 141.79,257.45 141.79,262.85 139.64,265.75 133.04,265.75 130.89,262.85 130.89,257.45" fill="#3195a2"/>
<polygon points="148.39,180.94 154.99,180.94 157.14,183.84 157.14,189.24 154.99,192.14 148.39,192.14 146.24,189.24 146.24,183.84" fill="#3195a2"/>
<polygon points="163.74,139.67 170.34,139.67 172.49,142.57 172.49,147.97 170.34,150.87 163.74,150.87 161.59,147.97 161.59,142.57" fill="#3195a2"/>
<polygon points="179.09,127.55 185.69,127.55 187.84,130.45 187.84,135.85 185.69,138.75 179.09,138.75 176.94,135.85 176.94,130.45" fill="#3195a2"/>
<polygon points="194.44,130.75 201.04,130.75 203.19,133.65 203.19,139.05 201.04,141.95 194.44,141.95 192.29,139.05 192.29,133.65" fill="#3195a2"/>
<polygon points="209.79,135.63 216.39,135.63 218.54,138.53 218.54,143.93 216.39,146.83 209.79,146.83 207.64,143.93 207.64,138.53" fill="#3195a2"/>
<polygon points="225.13,139.84 231.73,139.84 233.88,142.74 233.88,148.14 231.73,151.04 225.13,151.04 222.98,148.14 222.98,142.74" fill="#3195a2"/>
<polygon points="240.48,142.54 247.08,142.54 249.23,145.44 249.23,150.84 247.08,153.74 240.48,153.74 238.33,150.84 238.33,145.44" fill="#3195a2"/>
<polygon points="255.83,145.06 262.43,145.06 264.58,147.96 264.58,153.36 262.43,156.26 255.83,156.26 253.68,153.36 253.68,147.96" fill="#3195a2"/>
<polygon points="271.18,145.57 277.78,145.57 279.93,148.47 279.93,153.87 277.78,156.77 271.18,156.77 269.03,153.87 269.03,148.47" fill="#3195a2"/>
<polygon points="286.53,146.41 293.13,146.41 295.28,149.31 295.28,154.71 293.13,157.61 286.53,157.61 284.38,154.71 284.38,149.31" fill="#3195a2"/>
<polygon points="301.88,147.59 308.48,147.59 310.63,150.49 310.63,155.89 308.48,158.79 301.88,158.79 299.73,155.89 299.73,150.49" fill="#3195a2"/>
<polygon points="317.23,148.94 323.83,148.94 325.98,151.84 325.98,157.24 323.83,160.14 317.23,160.14 315.08,157.24 315.08,151.84" fill="#3195a2"/>
<polygon points="332.57,148.94 339.17,148.94 341.32,151.84 341.32,157.24 339.17,160.14 332.57,160.14 330.42,157.24 330.42,151.84" fill="#3195a2"/>
<polygon points="347.92,148.94 354.52,148.94 356.67,151.84 356.67,157.24 354.52,160.14 347.92,160.14 345.77,157.24 345.77,151.84" fill="#3195a2"/>
<polygon points="363.27,149.61 369.87,149.61 372.02,152.51 372.02,157.91 369.87,160.81 363.27,160.81 361.12,157.91 361.12,152.51" fill="#3195a2"/>
<polygon points="378.62,149.61 385.22,149.61 387.37,152.51 387.37,157.91 385.22,160.81 378.62,160.81 376.47,157.91 376.47,152.51" fill="#3195a2"/>
<polygon points="393.97,149.61 400.57,149.61 402.72,152.51 402.72,157.91 400.57,160.81 393.97,160.81 391.82,157.91 391.82,152.51" fill="#3195a2"/>
<polygon points="409.32,150.29 415.92,150.29 418.07,153.19 418.07,158.59 415.92,161.49 409.32,161.49 407.17,158.59 407.17,153.19" fill="#3195a2"/>
<polygon points="424.67,150.29 431.27,150.29 433.42,153.19 433.42,158.59 431.27,161.49 424.67,161.49 422.52,158.59 422.52,153.19" fill="#3195a2"/>
<polygon points="440.01,149.61 446.61,149.61 448.76,152.51 448.76,157.91 446.61,160.81 440.01,160.81 437.86,157.91 437.86,152.51" fill="#3195a2"/>
<polygon points="455.36,148.94 461.96,148.94 464.11,151.84 464.11,157.24 461.96,160.14 455.36,160.14 453.21,157.24 453.21,151.84" fill="#3195a2"/>
<polygon points="470.71,147.59 477.31,147.59 479.46,150.49 479.46,155.89 477.31,158.79 470.71,158.79 468.56,155.89 468.56,150.49" fill="#3195a2"/>
<polygon points="486.06,147.09 492.66,147.09 494.81,149.99 494.81,155.39 492.66,158.29 486.06,158.29 483.91,155.39 483.91,149.99" fill="#3195a2"/>
<polygon points="501.41,145.57 508.01,145.57 510.16,148.47 510.16,153.87 508.01,156.77 501.41,156.77 499.26,153.87 499.26,148.47" fill="#3195a2"/>
<polygon points="516.76,144.22 523.36,144.22 525.51,147.12 525.51,152.52 523.36,155.42 516.76,155.42 514.61,152.52 514.61,147.12" fill="#3195a2"/>
<polygon points="532.11,142.54 538.71,142.54 540.86,145.44 540.86,150.84 538.71,153.74 532.11,153.74 529.96,150.84 529.96,145.44" fill="#3195a2"/>
<polygon points="547.45,139.84 554.05,139.84 556.20,142.74 556.20,148.14 554.05,151.04 547.45,151.04 545.30,148.14 545.30,142.74" fill="#3195a2"/>
<polygon points="562.80,137.15 569.40,137.15 571.55,140.05 571.55,145.45 569.40,148.35 562.80,148.35 560.65,145.45 560.65,140.05" fill="#3195a2"/>
<polygon points="578.15,133.78 584.75,133.78 586.90,136.68 586.90,142.08 584.75,144.98 578.15,144.98 576.00,142.08 576.00,136.68" fill="#3195a2"/>
<polygon points="593.50,130.07 600.10,130.07 602.25,132.97 602.25,138.37 600.10,141.27 593.50,141.27 591.35,138.37 591.35,132.97" fill="#3195a2"/>
<polygon points="71.65,412.38 78.25,412.38 80.40,415.28 80.40,420.68 78.25,423.58 71.65,423.58 69.50,420.68 69.50,415.28" fill="#bb1d21"/>
<polygon points="87.00,402.78 93.60,402.78 95.75,405.68 95.75,411.08 93.60,413.98 87.00,413.98 84.85,411.08 84.85,405.68" fill="#bb1d21"/>
<polygon points="102.35,391.83 108.95,391.83 111.10,394.73 111.10,400.13 108.95,403.03 102.35,403.03 100.20,400.13 100.20,394.73" fill="#bb1d21"/>
<polygon points="117.69,375.32 124.29,375.32 126.44,378.22 126.44,383.62 124.29,386.52 117.69,386.52 115.54,383.62 115.54,378.22" fill="#bb1d21"/>
<polygon points="133.04,352.92 139.64,352.92 141.79,355.82 141.79,361.22 139.64,364.12 133.04,364.12 130.89,361.22 130.89,355.82" fill="#bb1d21"/>
<polygon points="148.39,325.80 154.99,325.80 157.14,328.70 157.14,334.10 154.99,337.00 148.39,337.00 146.24,334.10 146.24,328.70" fill="#bb1d21"/>
<polygon points="163.74,296.66 170.34,296.66 172.49,299.56 172.49,304.96 170.34,307.86 163.74,307.86 161.59,304.96 161.59,299.56" fill="#bb1d21"/>
<polygon points="179.09,264.82 185.69,264.82 187.84,267.72 187.84,273.12 185.69,276.02 179.09,276.02 176.94,273.12 176.94,267.72" fill="#bb1d21"/>
<polygon points="194.44,232.32 201.04,232.32 203.19,235.22 203.19,240.62 201.04,243.52 194.44,243.52 192.29,240.62 192.29,235.22" fill="#bb1d21"/>
<polygon points="209.79,204.02 216.39,204.02 218.54,206.92 218.54,212.32 216.39,215.22 209.79,215.22 207.64,212.32 207.64,206.92" fill="#bb1d21"/>
<polygon points="225.13,179.26 231.73,179.26 233.88,182.16 233.88,187.56 231.73,190.46 225.13,190.46 222.98,187.56 222.98,182.16" fill="#bb1d21"/>
<polygon points="240.48,159.04 247.08,159.04 249.23,161.94 249.23,167.34 247.08,170.24 240.48,170.24 238.33,167.34 238.33,161.94" fill="#bb1d21"/>
<polygon points="255.83,142.54 262.43,142.54 264.58,145.44 264.58,150.84 262.43,153.74 255.83,153.74 253.68,150.84 253.68,145.44" fill="#bb1d21"/>
<polygon points="271.18,128.05 277.78,128.05 279.93,130.95 279.93,136.35 277.78,139.25 271.18,139.25 269.03,136.35 269.03,130.95" fill="#bb1d21"/>
<polygon points="286.53,116.09 293.13,116.09 295.28,118.99 295.28,124.39 293.13,127.29 286.53,127.29 284.38,124.39 284.38,118.99" fill="#bb1d21"/>
<polygon points="301.88,106.83 308.48,106.83 310.63,109.73 310.63,115.13 308.48,118.03 301.88,118.03 299.73,115.13 299.73,109.73" fill="#bb1d21"/>
<polygon points="317.23,97.23 323.83,97.23 325.98,100.13 325.98,105.53 323.83,108.43 317.23,108.43 315.08,105.53 315.08,100.13" fill="#bb1d21"/>
<polygon points="332.57,89.82 339.17,89.82 341.32,92.72 341.32,98.12 339.17,101.02 332.57,101.02 330.42,98.12 330.42,92.72" fill="#bb1d21"/>
<polygon points="347.92,82.24 354.52,82.24 356.67,85.14 356.67,90.54 354.52,93.44 347.92,93.44 345.77,90.54 345.77,85.14" fill="#bb1d21"/>
<polygon points="363.27,75.33 369.87,75.33 372.02,78.23 372.02,83.63 369.87,86.53 363.27,86.53 361.12,83.63 361.12,78.23" fill="#bb1d21"/>
<polygon points="378.62,68.09 385.22,68.09 387.37,70.99 387.37,76.39 385.22,79.29 378.62,79.29 376.47,76.39 376.47,70.99" fill="#bb1d21"/>
<polygon points="393.97,62.02 400.57,62.02 402.72,64.92 402.72,70.32 400.57,73.22 393.97,73.22 391.82,70.32 391.82,64.92" fill="#bb1d21"/>
<polygon points="409.32,55.79 415.92,55.79 418.07,58.69 418.07,64.09 415.92,66.99 409.32,66.99 407.17,64.09 407.17,58.69" fill="#bb1d21"/>
<polygon points="424.67,49.22 431.27,49.22 433.42,52.12 433.42,57.52 431.27,60.42 424.67,60.42 422.52,57.52 422.52,52.12" fill="#bb1d21"/>
<polygon points="440.01,43.66 446.61,43.66 448.76,46.56 448.76,51.96 446.61,54.86 440.01,54.86 437.86,51.96 437.86,46.56" fill="#bb1d21"/>
<rect x="59.6" y="49.6" width="537.20" height="421.10" fill="none" stroke="#262626" stroke-width="2.2"/>
<text x="59.60" y="498.6" text-anchor="middle" class="tk">0</text>
<text x="136.34" y="498.6" text-anchor="middle" class="tk">10</text>
<text x="213.09" y="498.6" text-anchor="middle" class="tk">20</text>
<text x="289.83" y="498.6" text-anchor="middle" class="tk">30</text>
<text x="366.57" y="498.6" text-anchor="middle" class="tk">40</text>
<text x="443.31" y="498.6" text-anchor="middle" class="tk">50</text>
<text x="520.06" y="498.6" text-anchor="middle" class="tk">60</text>
<text x="596.80" y="498.6" text-anchor="middle" class="tk">70</text>
<text x="49.40" y="477.60" text-anchor="end" class="tk">-5</text>
<text x="49.40" y="393.38" text-anchor="end" class="tk">0</text>
<text x="49.40" y="309.16" text-anchor="end" class="tk">5</text>
<text x="49.40" y="224.94" text-anchor="end" class="tk">10</text>
<text x="49.40" y="140.72" text-anchor="end" class="tk">15</text>
<text x="49.40" y="56.50" text-anchor="end" class="tk">20</text>
<text x="328.20" y="527" text-anchor="middle" class="lb">Incidence Angle, deg</text>
<text transform="translate(16.20,260.15) rotate(-90)" text-anchor="middle" class="lb">Damping Ratio, dB</text>
<rect x="195.8" y="367.8" width="380.7" height="85.30000000000001" fill="#fff"/>
<line x1="207.4" y1="386.2" x2="280.8" y2="386.2" stroke="#3195a2" stroke-width="4.7"/>
<line x1="207.4" y1="411.2" x2="244.10000000000002" y2="411.2" stroke="#3195a2" stroke-width="4.7" stroke-dasharray="18.5 5.5"/>
<line x1="244.10000000000002" y1="411.2" x2="277.8" y2="411.2" stroke="#3195a2" stroke-width="4.7" stroke-dasharray="18.5 5.5"/>
<polygon points="240.80,405.60 247.40,405.60 249.55,408.50 249.55,413.90 247.40,416.80 240.80,416.80 238.65,413.90 238.65,408.50" fill="#3195a2"/>
<line x1="207.4" y1="436.2" x2="277.8" y2="436.2" stroke="#3195a2" stroke-width="4.7" stroke-dasharray="18.6 4.9 9.4 5.1"/>
<text x="288.3" y="392.7" class="lg">Biogenic (BPM with Marangoni)</text>
<text x="288.3" y="417.7" class="lg">Biogenic (AIEM with Marangoni)</text>
<text x="288.3" y="442.7" class="lg">Biogenic (AIEM with MLB)</text>
<line x1="829.13" y1="49.6" x2="829.13" y2="470.7" stroke="#dadada" stroke-width="2.5"/>
<line x1="905.86" y1="49.6" x2="905.86" y2="470.7" stroke="#dadada" stroke-width="2.5"/>
<line x1="982.59" y1="49.6" x2="982.59" y2="470.7" stroke="#dadada" stroke-width="2.5"/>
<line x1="1059.31" y1="49.6" x2="1059.31" y2="470.7" stroke="#dadada" stroke-width="2.5"/>
<line x1="1136.04" y1="49.6" x2="1136.04" y2="470.7" stroke="#dadada" stroke-width="2.5"/>
<line x1="1212.77" y1="49.6" x2="1212.77" y2="470.7" stroke="#dadada" stroke-width="2.5"/>
<line x1="752.4" y1="386.48" x2="1289.5" y2="386.48" stroke="#dadada" stroke-width="2.5"/>
<line x1="752.4" y1="302.26" x2="1289.5" y2="302.26" stroke="#dadada" stroke-width="2.5"/>
<line x1="752.4" y1="218.04" x2="1289.5" y2="218.04" stroke="#dadada" stroke-width="2.5"/>
<line x1="752.4" y1="133.82" x2="1289.5" y2="133.82" stroke="#dadada" stroke-width="2.5"/>
<line x1="752.40" y1="470.7" x2="752.40" y2="465.4" stroke="#262626" stroke-width="2.2"/>
<line x1="752.40" y1="49.6" x2="752.40" y2="54.9" stroke="#262626" stroke-width="2.2"/>
<line x1="829.13" y1="470.7" x2="829.13" y2="465.4" stroke="#262626" stroke-width="2.2"/>
<line x1="829.13" y1="49.6" x2="829.13" y2="54.9" stroke="#262626" stroke-width="2.2"/>
<line x1="905.86" y1="470.7" x2="905.86" y2="465.4" stroke="#262626" stroke-width="2.2"/>
<line x1="905.86" y1="49.6" x2="905.86" y2="54.9" stroke="#262626" stroke-width="2.2"/>
<line x1="982.59" y1="470.7" x2="982.59" y2="465.4" stroke="#262626" stroke-width="2.2"/>
<line x1="982.59" y1="49.6" x2="982.59" y2="54.9" stroke="#262626" stroke-width="2.2"/>
<line x1="1059.31" y1="470.7" x2="1059.31" y2="465.4" stroke="#262626" stroke-width="2.2"/>
<line x1="1059.31" y1="49.6" x2="1059.31" y2="54.9" stroke="#262626" stroke-width="2.2"/>
<line x1="1136.04" y1="470.7" x2="1136.04" y2="465.4" stroke="#262626" stroke-width="2.2"/>
<line x1="1136.04" y1="49.6" x2="1136.04" y2="54.9" stroke="#262626" stroke-width="2.2"/>
<line x1="1212.77" y1="470.7" x2="1212.77" y2="465.4" stroke="#262626" stroke-width="2.2"/>
<line x1="1212.77" y1="49.6" x2="1212.77" y2="54.9" stroke="#262626" stroke-width="2.2"/>
<line x1="1289.50" y1="470.7" x2="1289.50" y2="465.4" stroke="#262626" stroke-width="2.2"/>
<line x1="1289.50" y1="49.6" x2="1289.50" y2="54.9" stroke="#262626" stroke-width="2.2"/>
<line x1="752.4" y1="470.70" x2="757.6999999999999" y2="470.70" stroke="#262626" stroke-width="2.2"/>
<line x1="1289.5" y1="470.70" x2="1284.2" y2="470.70" stroke="#262626" stroke-width="2.2"/>
<line x1="752.4" y1="386.48" x2="757.6999999999999" y2="386.48" stroke="#262626" stroke-width="2.2"/>
<line x1="1289.5" y1="386.48" x2="1284.2" y2="386.48" stroke="#262626" stroke-width="2.2"/>
<line x1="752.4" y1="302.26" x2="757.6999999999999" y2="302.26" stroke="#262626" stroke-width="2.2"/>
<line x1="1289.5" y1="302.26" x2="1284.2" y2="302.26" stroke="#262626" stroke-width="2.2"/>
<line x1="752.4" y1="218.04" x2="757.6999999999999" y2="218.04" stroke="#262626" stroke-width="2.2"/>
<line x1="1289.5" y1="218.04" x2="1284.2" y2="218.04" stroke="#262626" stroke-width="2.2"/>
<line x1="752.4" y1="133.82" x2="757.6999999999999" y2="133.82" stroke="#262626" stroke-width="2.2"/>
<line x1="1289.5" y1="133.82" x2="1284.2" y2="133.82" stroke="#262626" stroke-width="2.2"/>
<line x1="752.4" y1="49.60" x2="757.6999999999999" y2="49.60" stroke="#262626" stroke-width="2.2"/>
<line x1="1289.5" y1="49.60" x2="1284.2" y2="49.60" stroke="#262626" stroke-width="2.2"/>
<g clip-path="url(#cb)" fill="none" stroke-width="4.7" stroke-linejoin="round">
<path d="M752.4,401.6 L754.7,401.6 L757.0,401.5 L759.3,401.4 L761.7,401.2 L764.0,401.0 L766.3,400.7 L768.6,400.3 L770.9,400.0 L773.2,399.6 L775.6,399.1 L777.9,398.7 L780.2,398.2 L782.5,397.7 L784.8,397.2 L787.1,396.6 L789.4,396.0 L791.8,395.4 L794.1,394.8 L796.4,394.1 L798.7,393.4 L801.0,392.7 L803.3,391.9 L805.6,391.0 L808.0,390.1 L810.3,389.2 L812.6,388.1 L814.9,387.1 L817.2,385.9 L819.5,384.7 L821.9,383.4 L824.2,381.9 L826.5,380.4 L828.8,378.8 L831.1,377.1 L833.4,375.3 L835.7,373.5 L838.1,371.6 L840.4,369.7 L842.7,367.8 L845.0,365.9 L847.3,363.9 L849.6,361.9 L851.9,360.0 L854.3,358.0 L856.6,356.1 L858.9,354.2 L861.2,352.3 L863.5,350.5 L865.8,348.7 L868.2,347.0 L870.5,345.3 L872.8,343.7 L875.1,342.2 L877.4,340.7 L879.7,339.3 L882.0,338.0 L884.4,336.8 L886.7,335.7 L889.0,334.7 L891.3,333.8 L893.6,332.9 L895.9,332.2 L898.3,331.6 L900.6,331.2 L902.9,330.8 L905.2,330.6 L907.5,330.5 L909.8,330.6 L912.1,330.8 L914.5,331.1 L916.8,331.7 L919.1,332.3 L921.4,333.0 L923.7,333.8 L926.0,334.7 L928.3,335.4 L930.7,336.2 L933.0,336.8 L935.3,337.4 L937.6,337.7 L939.9,338.0 L942.2,338.1 L944.6,338.1 L946.9,338.0 L949.2,337.7 L951.5,337.5 L953.8,337.1 L956.1,336.8 L958.4,336.5 L960.8,336.1 L963.1,335.9 L965.4,335.7 L967.7,335.5 L970.0,335.3 L972.3,335.1 L974.6,335.0 L977.0,334.8 L979.3,334.6 L981.6,334.3 L983.9,334.0 L986.2,333.6 L988.5,333.1 L990.9,332.6 L993.2,332.1 L995.5,331.6 L997.8,331.0 L1000.1,330.4 L1002.4,329.9 L1004.7,329.3 L1007.1,328.8 L1009.4,328.3 L1011.7,327.8 L1014.0,327.3 L1016.3,326.8 L1018.6,326.4 L1021.0,325.9 L1023.3,325.5 L1025.6,325.1 L1027.9,324.7 L1030.2,324.2 L1032.5,323.9 L1034.8,323.5 L1037.2,323.1 L1039.5,322.7 L1041.8,322.4 L1044.1,322.0 L1046.4,321.7 L1048.7,321.3 L1051.0,321.0 L1053.4,320.7 L1055.7,320.4 L1058.0,320.1 L1060.3,319.8 L1062.6,319.5 L1064.9,319.2 L1067.3,318.9 L1069.6,318.6 L1071.9,318.3 L1074.2,318.1 L1076.5,317.8 L1078.8,317.5 L1081.1,317.3 L1083.5,317.0 L1085.8,316.8 L1088.1,316.5 L1090.4,316.3 L1092.7,316.1 L1095.0,315.8 L1097.3,315.6 L1099.7,315.4 L1102.0,315.2 L1104.3,315.0 L1106.6,314.8 L1108.9,314.6 L1111.2,314.4 L1113.6,314.2 L1115.9,314.0 L1118.2,313.8 L1120.5,313.6 L1122.8,313.4 L1125.1,313.2 L1127.4,313.1 L1129.8,312.9 L1132.1,312.7 L1134.4,312.6 L1136.7,312.4 L1139.0,312.3 L1141.3,312.1 L1143.6,312.0 L1146.0,311.8 L1148.3,311.7 L1150.6,311.5 L1152.9,311.4 L1155.2,311.3 L1157.5,311.1 L1159.9,311.0 L1162.2,310.9 L1164.5,310.7 L1166.8,310.6 L1169.1,310.5 L1171.4,310.4 L1173.7,310.3 L1176.1,310.2 L1178.4,310.0 L1180.7,309.9 L1183.0,309.8 L1185.3,309.7 L1187.6,309.6 L1190.0,309.5 L1192.3,309.4 L1194.6,309.3 L1196.9,309.2 L1199.2,309.1 L1201.5,309.0 L1203.8,309.0 L1206.2,308.9 L1208.5,308.8 L1210.8,308.7 L1213.1,308.6 L1215.4,308.5 L1217.7,308.4 L1220.0,308.4 L1222.4,308.3 L1224.7,308.2 L1227.0,308.1 L1229.3,308.0 L1231.6,308.0 L1233.9,307.9 L1236.3,307.8 L1238.6,307.7 L1240.9,307.7 L1243.2,307.6 L1245.5,307.5 L1247.8,307.5 L1250.1,307.4 L1252.5,307.3 L1254.8,307.2 L1257.1,307.2 L1259.4,307.1 L1261.7,307.0 L1264.0,306.9 L1266.3,306.9 L1268.7,306.8 L1271.0,306.7 L1273.3,306.7 L1275.6,306.6 L1277.9,306.5 L1280.2,306.4 L1282.6,306.4 L1284.9,306.3 L1287.2,306.2 L1289.5,306.1" stroke="#3195a2"/>
<path d="M752.4,406.7 L754.7,406.6 L757.0,406.4 L759.3,406.3 L761.7,406.0 L764.0,405.8 L766.3,405.5 L768.6,405.1 L770.9,404.7 L773.2,404.2 L775.6,403.7 L777.9,403.1 L780.2,402.5 L782.5,401.8 L784.8,401.1 L787.1,400.2 L789.4,399.3 L791.8,398.4 L794.1,397.3 L796.4,396.2 L798.7,395.0 L801.0,393.8 L803.3,392.4 L805.6,391.0 L808.0,389.4 L810.3,387.8 L812.6,386.1 L814.9,384.3 L817.2,382.3 L819.5,380.2 L821.9,378.0 L824.2,375.5 L826.5,372.9 L828.8,370.0 L831.1,367.1 L833.4,364.0 L835.7,361.0 L838.1,358.1 L840.4,355.2 L842.7,352.4 L845.0,349.6 L847.3,347.0 L849.6,344.4 L851.9,341.8 L854.3,339.4 L856.6,337.0 L858.9,334.7 L861.2,332.5 L863.5,330.3 L865.8,328.2 L868.2,326.2 L870.5,324.3 L872.8,322.5 L875.1,320.9 L877.4,319.3 L879.7,317.9 L882.0,316.6 L884.4,315.6 L886.7,314.6 L889.0,313.9 L891.3,313.4 L893.6,313.0 L895.9,312.9 L898.3,313.1 L900.6,313.5 L902.9,314.1 L905.2,315.0 L907.5,316.2 L909.8,317.6 L912.1,319.2 L914.5,320.9 L916.8,322.7 L919.1,324.5 L921.4,326.4 L923.7,328.1 L926.0,329.8 L928.3,331.3 L930.7,332.6 L933.0,333.8 L935.3,334.7 L937.6,335.4 L939.9,335.9 L942.2,336.3 L944.6,336.5 L946.9,336.5 L949.2,336.5 L951.5,336.4 L953.8,336.3 L956.1,336.1 L958.4,335.9 L960.8,335.8 L963.1,335.7 L965.4,335.6 L967.7,335.5 L970.0,335.4 L972.3,335.2 L974.6,334.9 L977.0,334.5 L979.3,334.0 L981.6,333.5 L983.9,332.9 L986.2,332.2 L988.5,331.5 L990.9,330.8 L993.2,330.0 L995.5,329.2 L997.8,328.4 L1000.1,327.6 L1002.4,326.8 L1004.7,326.0 L1007.1,325.2 L1009.4,324.5 L1011.7,323.7 L1014.0,323.0 L1016.3,322.3 L1018.6,321.6 L1021.0,320.9 L1023.3,320.2 L1025.6,319.5 L1027.9,318.9 L1030.2,318.2 L1032.5,317.6 L1034.8,316.9 L1037.2,316.3 L1039.5,315.7 L1041.8,315.1 L1044.1,314.5 L1046.4,313.9 L1048.7,313.3 L1051.0,312.7 L1053.4,312.2 L1055.7,311.6 L1058.0,311.1 L1060.3,310.6 L1062.6,310.0 L1064.9,309.5 L1067.3,309.0 L1069.6,308.5 L1071.9,308.0 L1074.2,307.5 L1076.5,307.0 L1078.8,306.5 L1081.1,306.1 L1083.5,305.6 L1085.8,305.1 L1088.1,304.7 L1090.4,304.2 L1092.7,303.8 L1095.0,303.3 L1097.3,302.9 L1099.7,302.5 L1102.0,302.0 L1104.3,301.6 L1106.6,301.2 L1108.9,300.8 L1111.2,300.4 L1113.6,300.0 L1115.9,299.6 L1118.2,299.2 L1120.5,298.9 L1122.8,298.5 L1125.1,298.1 L1127.4,297.7 L1129.8,297.4 L1132.1,297.0 L1134.4,296.7 L1136.7,296.3 L1139.0,296.0 L1141.3,295.7 L1143.6,295.3 L1146.0,295.0 L1148.3,294.7 L1150.6,294.4 L1152.9,294.1 L1155.2,293.8 L1157.5,293.5 L1159.9,293.2 L1162.2,292.9 L1164.5,292.6 L1166.8,292.3 L1169.1,292.0 L1171.4,291.8 L1173.7,291.5 L1176.1,291.2 L1178.4,291.0 L1180.7,290.7 L1183.0,290.5 L1185.3,290.2 L1187.6,290.0 L1190.0,289.7 L1192.3,289.5 L1194.6,289.3 L1196.9,289.1 L1199.2,288.9 L1201.5,288.6 L1203.8,288.4 L1206.2,288.2 L1208.5,288.0 L1210.8,287.8 L1213.1,287.6 L1215.4,287.4 L1217.7,287.3 L1220.0,287.1 L1222.4,286.9 L1224.7,286.7 L1227.0,286.6 L1229.3,286.4 L1231.6,286.2 L1233.9,286.1 L1236.3,285.9 L1238.6,285.8 L1240.9,285.6 L1243.2,285.5 L1245.5,285.3 L1247.8,285.2 L1250.1,285.1 L1252.5,285.0 L1254.8,284.8 L1257.1,284.7 L1259.4,284.6 L1261.7,284.5 L1264.0,284.4 L1266.3,284.3 L1268.7,284.2 L1271.0,284.1 L1273.3,284.0 L1275.6,283.9 L1277.9,283.8 L1280.2,283.7 L1282.6,283.6 L1284.9,283.5 L1287.2,283.5 L1289.5,283.4" stroke="#bb1d21"/>
<path d="M767.4,455.9 L767.9,455.0 L768.4,454.1 L768.8,453.2 L769.3,452.3 L769.7,451.4 L770.2,450.6 L770.7,449.7 L771.1,448.8 L771.6,447.9 L772.1,447.0 L772.6,446.1 L773.0,445.2 L773.5,444.4 L774.0,443.5 L774.4,442.6 L774.9,441.7 L775.3,440.8 L775.8,439.9 L776.3,439.0 L776.7,438.1 L777.2,437.2 L777.6,436.4 L778.1,435.5 L778.5,434.6 L778.9,433.7 L779.4,432.8 L779.8,431.9 L780.2,431.0 L780.7,430.1 L781.1,429.1 L781.5,428.2 L781.9,427.3 L782.3,426.4 L782.7,425.5 L783.1,424.6 L783.5,423.6 L783.9,422.7 L784.2,421.8 L784.6,420.8 L784.9,419.9 L785.2,419.0 L785.5,418.0 L785.8,417.1 L786.1,416.1 L786.4,415.1 L786.7,414.2 L786.9,413.2 L787.2,412.2 L787.4,411.3 L787.6,410.3 L787.8,409.3 L788.0,408.3 L788.2,407.3 L788.3,406.4 L788.5,405.4 L788.7,404.4 L788.8,403.4 L789.0,402.4 L789.1,401.4 L789.3,400.4 L789.4,399.4 L789.6,398.4 L789.7,397.5 L789.9,396.5 L790.1,395.5 L790.2,394.5 L790.4,393.5 L790.6,392.5 L790.7,391.5 L790.9,390.6 L791.1,389.6 L791.3,388.6 L791.5,387.6 L791.7,386.6 L791.9,385.6 L792.1,384.7 L792.3,383.7 L792.5,382.7 L792.7,381.7 L792.9,380.7 L793.0,379.8 L793.2,378.8 L793.4,377.8 L793.6,376.8 L793.8,375.8 L794.0,374.8 L794.2,373.9 L794.4,372.9 L794.6,371.9 L794.8,370.9 L795.0,369.9 L795.2,369.0 L795.4,368.0 L795.6,367.0 L795.8,366.0 L796.0,365.0 L796.2,364.1 L796.4,363.1 L796.6,362.1 L796.8,361.1 L797.0,360.1 L797.2,359.2 L797.4,358.2 L797.6,357.2 L797.8,356.2 L798.0,355.2 L798.2,354.3 L798.4,353.3 L798.6,352.3 L798.8,351.3 L799.0,350.3 L799.2,349.4 L799.4,348.4 L799.6,347.4 L799.8,346.4 L800.0,345.4 L800.2,344.4 L800.4,343.5 L800.6,342.5 L800.8,341.5 L801.0,340.5 L801.2,339.5 L801.4,338.6 L801.6,337.6 L801.8,336.6 L802.0,335.6 L802.2,334.6 L802.4,333.7 L802.6,332.7 L802.8,331.7 L803.0,330.7 L803.2,329.7 L803.5,328.8 L803.7,327.8 L803.9,326.8 L804.1,325.8 L804.3,324.8 L804.5,323.9 L804.7,322.9 L804.9,321.9 L805.1,320.9 L805.3,320.0 L805.5,319.0 L805.8,318.0 L806.0,317.0 L806.2,316.1 L806.5,315.1 L806.7,314.1 L807.0,313.2 L807.3,312.2 L807.5,311.2 L807.8,310.3 L808.1,309.3 L808.4,308.4 L808.6,307.4 L808.8,306.4 L809.1,305.4 L809.3,304.5 L809.5,303.5 L809.7,302.5 L809.9,301.5 L810.1,300.6 L810.3,299.6 L810.5,298.6 L810.7,297.6 L810.9,296.6 L811.1,295.6 L811.3,294.7 L811.5,293.7 L811.7,292.7 L811.9,291.7 L812.0,290.7 L812.2,289.7 L812.4,288.8 L812.6,287.8 L812.8,286.8 L813.0,285.8 L813.2,284.8 L813.3,283.8 L813.5,282.9 L813.7,281.9 L813.9,280.9 L814.1,279.9 L814.3,278.9 L814.5,277.9 L814.6,277.0 L814.8,276.0 L815.0,275.0 L815.2,274.0 L815.4,273.0 L815.6,272.0 L815.7,271.1 L815.9,270.1 L816.1,269.1 L816.3,268.1 L816.5,267.1 L816.7,266.1 L816.9,265.2 L817.0,264.2 L817.2,263.2 L817.4,262.2 L817.6,261.2 L817.8,260.2 L818.0,259.3 L818.2,258.3 L818.3,257.3 L818.5,256.3 L818.7,255.3 L818.9,254.3 L819.1,253.4 L819.3,252.4 L819.5,251.4 L819.7,250.4 L819.8,249.4 L820.0,248.5 L820.2,247.5 L820.4,246.5 L820.6,245.5 L820.8,244.5 L821.0,243.5 L821.2,242.6 L821.4,241.6 L821.6,240.6 L821.8,239.6 L822.0,238.6 L822.2,237.7 L822.4,236.7 L822.7,235.7 L822.9,234.7 L823.1,233.8 L823.3,232.8 L823.6,231.8 L823.8,230.8 L824.1,229.9 L824.3,228.9 L824.6,228.0 L824.9,227.0 L825.2,226.0 L825.5,225.1 L825.8,224.1 L826.1,223.2 L826.5,222.2 L826.8,221.3 L827.1,220.3 L827.4,219.4 L827.7,218.4 L827.9,217.5 L828.2,216.5 L828.5,215.5 L828.7,214.6 L829.0,213.6 L829.3,212.6 L829.5,211.7 L829.8,210.7 L830.0,209.7 L830.2,208.8 L830.5,207.8 L830.7,206.8 L831.0,205.9 L831.3,204.9 L831.5,203.9 L831.8,203.0 L832.0,202.0 L832.3,201.0 L832.6,200.1 L832.8,199.1 L833.1,198.1 L833.4,197.2 L833.7,196.2 L834.1,195.3 L834.4,194.3 L834.8,193.4 L835.1,192.5 L835.5,191.6 L835.9,190.7 L836.4,189.8 L836.8,188.9 L837.3,188.1 L837.9,187.3 L838.5,186.5 L839.2,185.8 L839.9,185.1 L840.6,184.5 L841.5,184.0 L842.3,183.5 L843.2,183.1 L844.1,182.7 L845.0,182.4 L846.0,182.1 L846.9,181.8 L847.9,181.6 L848.9,181.4 L849.9,181.3 L850.9,181.1 L851.9,181.0 L852.9,180.9 L853.9,180.8 L854.8,180.7 L855.8,180.6 L856.8,180.5 L857.8,180.4 L858.8,180.2 L859.8,180.1 L860.6,180.8 L861.4,181.4 L862.2,182.0 L863.0,182.6 L863.8,183.2 L864.5,183.8 L865.3,184.5 L866.1,185.1 L866.9,185.7 L867.7,186.3 L868.5,186.9 L869.3,187.6 L870.1,188.2 L870.8,188.8 L871.6,189.4 L872.4,190.1 L873.2,190.7 L873.9,191.3 L874.7,192.0 L875.5,192.6 L876.2,193.3 L877.0,193.9 L877.8,194.6 L878.5,195.2 L879.3,195.9 L880.0,196.6 L880.7,197.3 L881.5,197.9 L882.2,198.6 L882.9,199.3 L883.6,200.0 L884.3,200.7 L885.0,201.4 L885.7,202.2 L886.4,202.9 L887.1,203.6 L887.8,204.3 L888.5,205.0 L889.2,205.7 L889.9,206.5 L890.6,207.2 L891.3,207.9 L892.0,208.6 L892.7,209.3 L893.4,210.1 L894.1,210.8 L894.8,211.5 L895.5,212.2 L896.2,212.9 L896.9,213.6 L897.6,214.3 L898.4,215.0 L899.1,215.7 L899.8,216.4 L900.6,217.0 L901.3,217.7 L902.1,218.3 L902.9,219.0 L903.6,219.6 L904.4,220.2 L905.2,220.8 L906.0,221.4 L906.8,222.0 L907.7,222.6 L908.5,223.1 L909.3,223.7 L910.2,224.2 L911.0,224.8 L911.8,225.3 L912.7,225.9 L913.5,226.4 L914.4,226.9 L915.2,227.5 L916.1,228.0 L916.9,228.5 L917.8,229.0 L918.7,229.5 L919.5,230.1 L920.4,230.6 L921.2,231.1 L922.1,231.6 L923.0,232.1 L923.9,232.5 L924.7,233.0 L925.6,233.5 L926.5,234.0 L927.4,234.5 L928.2,235.0 L929.1,235.5 L930.0,236.0 L930.8,236.5 L931.7,236.9 L932.6,237.4 L933.5,237.9 L934.3,238.4 L935.2,238.9 L936.1,239.4 L937.0,239.9 L937.8,240.4 L938.7,240.8 L939.6,241.3 L940.5,241.8 L941.4,242.2 L942.3,242.7 L943.2,243.1 L944.1,243.5 L945.0,243.9 L945.9,244.3 L946.8,244.7 L947.8,245.1 L948.7,245.5 L949.6,245.8 L950.6,246.2 L951.5,246.5 L952.4,246.9 L953.4,247.2 L954.3,247.5 L955.3,247.9 L956.2,248.2 L957.2,248.5 L958.1,248.8 L959.1,249.1 L960.0,249.4 L961.0,249.7 L961.9,250.1 L962.9,250.4 L963.8,250.7 L964.8,250.9 L965.8,251.2 L966.7,251.5 L967.7,251.8 L968.6,252.1 L969.6,252.4 L970.6,252.7 L971.5,252.9 L972.5,253.2 L973.4,253.5 L974.4,253.8 L975.4,254.0 L976.3,254.3 L977.3,254.5 L978.3,254.8 L979.3,255.0 L980.2,255.2 L981.2,255.5 L982.2,255.7 L983.2,255.9 L984.1,256.1 L985.1,256.4 L986.1,256.6 L987.1,256.8 L988.0,257.0 L989.0,257.2 L990.0,257.3 L991.0,257.5 L992.0,257.7 L993.0,257.9 L994.0,258.1 L994.9,258.2 L995.9,258.4 L996.9,258.6 L997.9,258.7 L998.9,258.9 L999.9,259.1 L1000.9,259.2 L1001.9,259.4 L1002.8,259.5 L1003.8,259.7 L1004.8,259.8 L1005.8,260.0 L1006.8,260.1 L1007.8,260.3 L1008.8,260.4 L1009.8,260.5 L1010.8,260.7 L1011.8,260.8 L1012.8,260.9 L1013.7,261.0 L1014.7,261.2 L1015.7,261.3 L1016.7,261.4 L1017.7,261.6 L1018.7,261.7 L1019.7,261.8 L1020.7,262.0 L1021.7,262.1 L1022.7,262.3 L1023.7,262.4 L1024.7,262.5 L1025.7,262.7 L1026.6,262.8 L1027.6,263.0 L1028.6,263.1 L1029.6,263.2 L1030.6,263.4 L1031.6,263.5 L1032.6,263.6 L1033.6,263.8 L1034.6,263.9 L1035.6,264.0 L1036.6,264.1 L1037.6,264.3 L1038.6,264.4 L1039.5,264.5 L1040.5,264.6 L1041.5,264.7 L1042.5,264.8 L1043.5,264.9 L1044.5,265.1 L1045.5,265.2 L1046.5,265.3 L1047.5,265.4 L1048.5,265.5 L1049.5,265.6 L1050.5,265.7 L1051.5,265.8 L1052.5,265.9 L1053.5,266.0 L1054.5,266.1 L1055.5,266.2 L1056.5,266.3 L1057.5,266.4 L1058.5,266.5 L1059.5,266.6 L1060.5,266.7 L1061.5,266.8 L1062.5,266.9 L1063.4,266.9 L1064.4,267.0 L1065.4,267.1 L1066.4,267.2 L1067.4,267.3 L1068.4,267.3 L1069.4,267.4 L1070.4,267.5 L1071.4,267.5 L1072.4,267.6 L1073.4,267.7 L1074.4,267.7 L1075.4,267.8 L1076.4,267.8 L1077.4,267.9 L1078.4,267.9 L1079.4,268.0 L1080.4,268.0 L1081.4,268.1 L1082.4,268.1 L1083.4,268.2 L1084.4,268.3 L1085.4,268.3 L1086.4,268.4 L1087.4,268.4 L1088.4,268.4 L1089.4,268.5 L1090.4,268.5 L1091.4,268.6 L1092.4,268.6 L1093.4,268.7 L1094.4,268.7 L1095.4,268.8 L1096.4,268.8 L1097.4,268.9 L1098.4,268.9 L1099.4,269.0 L1100.4,269.0 L1101.4,269.1 L1102.4,269.1 L1103.4,269.2 L1104.4,269.2 L1105.4,269.3 L1106.4,269.3 L1107.4,269.4 L1108.4,269.4 L1109.4,269.5 L1110.4,269.5 L1111.4,269.5 L1112.4,269.6 L1113.4,269.6 L1114.4,269.7 L1115.4,269.7 L1116.4,269.8 L1117.4,269.8 L1118.4,269.9 L1119.4,269.9 L1120.4,270.0 L1121.4,270.0 L1122.4,270.1 L1123.4,270.1 L1124.4,270.2 L1125.4,270.2 L1126.4,270.3 L1127.4,270.3 L1128.4,270.4 L1129.4,270.4 L1130.4,270.5 L1131.4,270.5 L1132.4,270.6 L1133.4,270.6 L1134.4,270.6 L1135.4,270.7 L1136.4,270.7 L1137.4,270.8 L1138.4,270.9 L1139.4,270.9 L1140.4,271.0 L1141.4,271.0 L1142.4,271.1 L1143.4,271.1 L1144.4,271.2 L1145.4,271.2 L1146.4,271.3 L1147.4,271.3 L1148.4,271.4 L1149.4,271.4 L1150.4,271.5 L1151.4,271.6 L1152.4,271.6 L1153.4,271.7 L1154.4,271.7 L1155.4,271.8 L1156.4,271.8 L1157.4,271.9 L1158.4,271.9 L1159.4,272.0 L1160.4,272.1 L1161.4,272.1 L1162.4,272.2 L1163.4,272.2 L1164.4,272.3 L1165.4,272.3 L1166.4,272.4 L1167.4,272.4 L1168.4,272.5 L1169.4,272.5 L1170.4,272.6 L1171.4,272.6 L1172.4,272.7 L1173.4,272.7 L1174.4,272.8 L1175.4,272.8 L1176.4,272.8 L1177.4,272.9 L1178.4,272.9 L1179.4,273.0 L1180.4,273.0 L1181.4,273.0 L1182.4,273.1 L1183.4,273.1 L1184.4,273.1 L1185.4,273.2 L1186.4,273.2 L1187.4,273.2 L1188.4,273.3 L1189.4,273.3 L1190.4,273.3 L1191.4,273.3 L1192.4,273.4 L1193.4,273.4 L1194.4,273.4 L1195.4,273.5 L1196.4,273.5 L1197.4,273.5 L1198.4,273.6 L1199.4,273.6 L1200.4,273.6 L1201.4,273.6 L1202.4,273.7 L1203.4,273.7 L1204.4,273.7 L1205.4,273.7 L1206.4,273.8 L1207.4,273.8 L1208.4,273.8 L1209.4,273.9 L1210.4,273.9 L1211.4,273.9 L1212.4,274.0 L1213.4,274.0 L1214.4,274.0 L1215.4,274.0 L1216.4,274.1 L1217.4,274.1 L1218.4,274.1 L1219.4,274.2 L1220.4,274.2 L1221.4,274.2 L1222.4,274.3 L1223.4,274.3 L1224.4,274.3 L1225.4,274.4 L1226.4,274.4 L1227.5,274.4 L1228.5,274.5 L1229.5,274.5 L1230.5,274.5 L1231.5,274.6 L1232.5,274.6 L1233.5,274.6 L1234.5,274.7 L1235.5,274.7 L1236.5,274.7 L1237.5,274.8 L1238.5,274.8 L1239.5,274.8 L1240.5,274.9 L1241.5,274.9 L1242.5,274.9 L1243.5,274.9 L1244.5,275.0 L1245.5,275.0 L1246.5,275.0 L1247.5,275.1 L1248.5,275.1 L1249.5,275.1 L1250.5,275.1 L1251.5,275.2 L1252.5,275.2 L1253.5,275.2 L1254.5,275.2 L1255.5,275.3 L1256.5,275.3 L1257.5,275.3 L1258.5,275.3 L1259.5,275.4 L1260.5,275.4 L1261.5,275.4 L1262.5,275.4 L1263.5,275.5 L1264.5,275.5 L1265.5,275.5 L1266.5,275.5 L1267.5,275.5 L1268.5,275.6 L1269.5,275.6 L1270.5,275.6 L1271.5,275.6 L1272.5,275.6 L1273.5,275.7 L1274.5,275.7 L1275.5,275.7 L1276.5,275.7 L1277.5,275.7 L1278.5,275.8 L1279.5,275.8 L1280.5,275.8 L1281.5,275.8 L1282.5,275.8 L1283.5,275.9 L1284.5,275.9 L1285.5,275.9 L1286.5,275.9 L1287.5,275.9 L1288.5,276.0 L1289.5,276.0" stroke="#3195a2" stroke-dasharray="18.6 4.9 9.4 5.1" stroke-dashoffset="18"/>
<path d="M770.5,466.3 L770.8,465.4 L771.1,464.4 L771.3,463.4 L771.6,462.5 L771.9,461.5 L772.2,460.6 L772.5,459.6 L772.8,458.6 L773.0,457.7 L773.3,456.7 L773.6,455.8 L773.9,454.8 L774.2,453.9 L774.5,452.9 L774.8,451.9 L775.0,451.0 L775.3,450.0 L775.6,449.1 L775.9,448.1 L776.2,447.1 L776.4,446.2 L776.7,445.2 L777.0,444.3 L777.3,443.3 L777.5,442.3 L777.8,441.4 L778.1,440.4 L778.4,439.4 L778.6,438.5 L778.9,437.5 L779.2,436.6 L779.4,435.6 L779.7,434.6 L779.9,433.7 L780.2,432.7 L780.5,431.7 L780.7,430.8 L781.0,429.8 L781.2,428.8 L781.4,427.8 L781.7,426.9 L781.9,425.9 L782.1,424.9 L782.4,424.0 L782.6,423.0 L782.8,422.0 L783.0,421.0 L783.2,420.0 L783.4,419.1 L783.5,418.1 L783.7,417.1 L783.9,416.1 L784.0,415.1 L784.1,414.1 L784.3,413.1 L784.4,412.1 L784.5,411.1 L784.6,410.2 L784.7,409.2 L784.8,408.2 L784.9,407.2 L785.0,406.2 L785.1,405.2 L785.2,404.2 L785.2,403.2 L785.3,402.2 L785.4,401.2 L785.5,400.2 L785.6,399.2 L785.7,398.2 L785.8,397.2 L785.9,396.2 L786.0,395.2 L786.2,394.2 L786.3,393.2 L786.4,392.2 L786.5,391.3 L786.7,390.3 L786.8,389.3 L787.0,388.3 L787.1,387.3 L787.3,386.3 L787.4,385.3 L787.6,384.3 L787.8,383.4 L787.9,382.4 L788.1,381.4 L788.3,380.4 L788.4,379.4 L788.6,378.4 L788.8,377.4 L789.0,376.5 L789.1,375.5 L789.3,374.5 L789.5,373.5 L789.7,372.5 L789.9,371.5 L790.0,370.5 L790.2,369.6 L790.4,368.6 L790.6,367.6 L790.8,366.6 L790.9,365.6 L791.1,364.6 L791.3,363.7 L791.5,362.7 L791.7,361.7 L791.8,360.7 L792.0,359.7 L792.2,358.7 L792.4,357.8 L792.6,356.8 L792.8,355.8 L792.9,354.8 L793.1,353.8 L793.3,352.9 L793.5,351.9 L793.7,350.9 L793.9,349.9 L794.1,348.9 L794.2,347.9 L794.4,347.0 L794.6,346.0 L794.8,345.0 L795.0,344.0 L795.2,343.0 L795.4,342.0 L795.5,341.1 L795.7,340.1 L795.9,339.1 L796.1,338.1 L796.3,337.1 L796.5,336.1 L796.7,335.2 L796.9,334.2 L797.0,333.2 L797.2,332.2 L797.4,331.2 L797.6,330.3 L797.8,329.3 L798.0,328.3 L798.2,327.3 L798.3,326.3 L798.5,325.3 L798.7,324.4 L798.9,323.4 L799.1,322.4 L799.3,321.4 L799.5,320.4 L799.6,319.4 L799.8,318.5 L800.0,317.5 L800.2,316.5 L800.4,315.5 L800.6,314.5 L800.8,313.5 L800.9,312.6 L801.1,311.6 L801.3,310.6 L801.5,309.6 L801.7,308.6 L801.9,307.7 L802.1,306.7 L802.3,305.7 L802.5,304.7 L802.7,303.7 L802.9,302.8 L803.1,301.8 L803.3,300.8 L803.5,299.8 L803.7,298.8 L803.9,297.9 L804.1,296.9 L804.3,295.9 L804.5,294.9 L804.7,293.9 L804.9,293.0 L805.1,292.0 L805.3,291.0 L805.5,290.0 L805.7,289.0 L805.9,288.1 L806.1,287.1 L806.3,286.1 L806.5,285.1 L806.7,284.1 L806.9,283.2 L807.1,282.2 L807.3,281.2 L807.5,280.2 L807.7,279.2 L807.8,278.3 L808.0,277.3 L808.2,276.3 L808.4,275.3 L808.6,274.3 L808.8,273.4 L809.0,272.4 L809.2,271.4 L809.4,270.4 L809.6,269.4 L809.8,268.4 L810.0,267.5 L810.2,266.5 L810.4,265.5 L810.6,264.5 L810.8,263.5 L811.0,262.6 L811.2,261.6 L811.4,260.6 L811.6,259.6 L811.8,258.6 L812.0,257.7 L812.2,256.7 L812.4,255.7 L812.6,254.7 L812.8,253.7 L813.0,252.8 L813.2,251.8 L813.4,250.8 L813.6,249.8 L813.8,248.8 L814.0,247.9 L814.2,246.9 L814.4,245.9 L814.6,244.9 L814.8,243.9 L815.0,243.0 L815.2,242.0 L815.4,241.0 L815.6,240.0 L815.8,239.1 L816.0,238.1 L816.2,237.1 L816.4,236.1 L816.6,235.1 L816.8,234.2 L817.0,233.2 L817.2,232.2 L817.4,231.2 L817.7,230.2 L817.9,229.3 L818.1,228.3 L818.3,227.3 L818.5,226.3 L818.7,225.4 L818.9,224.4 L819.2,223.4 L819.4,222.4 L819.6,221.5 L819.8,220.5 L820.1,219.5 L820.3,218.5 L820.5,217.6 L820.8,216.6 L821.0,215.6 L821.3,214.7 L821.5,213.7 L821.8,212.7 L822.1,211.8 L822.4,210.8 L822.7,209.9 L823.0,208.9 L823.3,208.0 L823.7,207.1 L824.1,206.2 L824.5,205.3 L825.0,204.4 L825.5,203.5 L826.0,202.7 L826.6,201.9 L827.1,201.0 L827.7,200.3 L828.3,199.5 L829.0,198.8 L829.7,198.1 L830.4,197.5 L831.1,196.8 L843.7,194.0 L844.6,194.5 L845.4,195.0 L846.3,195.6 L847.1,196.1 L847.9,196.7 L848.8,197.2 L849.6,197.8 L850.5,198.3 L851.3,198.9 L852.2,199.4 L853.0,200.0 L853.9,200.5 L854.7,201.1 L855.6,201.6 L856.4,202.2 L857.3,202.7 L858.1,203.3 L859.0,203.8 L859.8,204.4 L860.6,204.9 L861.5,205.5 L862.3,206.0 L863.2,206.6 L864.0,207.2 L864.9,207.7 L865.7,208.3 L866.5,208.9 L867.4,209.4 L868.2,210.0 L869.0,210.6 L869.9,211.1 L870.7,211.7 L871.5,212.3 L872.3,212.9 L873.2,213.5 L874.0,214.0 L874.8,214.6 L875.6,215.2 L876.5,215.8 L877.3,216.4 L878.1,216.9 L878.9,217.5 L879.8,218.1 L880.6,218.7 L881.4,219.2 L882.3,219.8 L883.1,220.4 L883.9,220.9 L884.8,221.5 L885.6,222.0 L886.5,222.6 L887.3,223.1 L888.2,223.7 L889.0,224.2 L889.9,224.8 L890.7,225.3 L891.6,225.8 L892.4,226.4 L893.3,226.9 L894.2,227.4 L895.0,228.0 L895.9,228.5 L896.9,228.7 L897.8,229.0 L898.8,229.2 L899.8,229.5 L900.7,229.7 L901.7,230.0 L902.7,230.2 L903.6,230.4 L904.6,230.7 L905.6,230.9 L906.6,231.2 L907.5,231.4 L908.5,231.6 L909.5,231.8 L910.5,232.0 L911.5,232.2 L912.4,232.4 L913.4,232.5 L914.4,232.7 L915.4,232.8 L916.4,233.0 L917.4,233.1 L918.4,233.2 L919.4,233.3 L920.4,233.5 L921.4,233.6 L922.4,233.7 L923.4,233.8 L924.3,234.0 L925.3,234.1 L926.3,234.3 L927.3,234.4 L928.3,234.5 L929.3,234.6 L930.3,234.8 L931.3,234.9 L932.3,235.0 L933.3,235.1 L934.3,235.2 L935.3,235.3 L936.3,235.4 L937.3,235.4 L938.3,235.5 L939.3,235.6 L940.3,235.7 L941.3,235.8 L942.3,235.8 L943.3,235.9 L944.3,236.0 L945.3,236.0 L946.3,236.1 L947.3,236.2 L948.3,236.2 L949.3,236.3 L950.3,236.3 L951.3,236.4 L952.3,236.5 L953.3,236.5 L954.3,236.6 L955.3,236.6 L956.3,236.7 L957.3,236.8 L958.3,236.8 L959.3,236.9 L960.3,236.9 L961.3,237.0 L962.3,237.1 L963.3,237.1 L964.3,237.2 L965.3,237.2 L966.3,237.3 L967.3,237.3 L968.3,237.4 L969.3,237.4 L970.3,237.5 L971.3,237.5 L972.3,237.6 L973.3,237.7 L974.3,237.7 L975.3,237.8 L976.3,237.8 L977.3,237.9 L978.3,237.9 L979.3,238.0 L980.3,238.0 L981.3,238.1 L982.3,238.1 L983.3,238.2 L984.3,238.2 L985.3,238.3 L986.3,238.3 L987.3,238.4 L988.3,238.4 L989.3,238.4 L990.3,238.5 L991.3,238.5 L992.3,238.6 L993.3,238.6 L994.3,238.7 L995.3,238.7 L996.3,238.7 L997.3,238.8 L998.3,238.8 L999.3,238.8 L1000.3,238.9 L1001.3,238.9 L1002.3,239.0 L1003.3,239.0 L1004.3,239.0 L1005.3,239.1 L1006.3,239.1 L1007.3,239.2 L1008.3,239.2 L1009.3,239.2 L1010.3,239.3 L1011.3,239.3 L1012.3,239.3 L1013.3,239.4 L1014.3,239.4 L1015.3,239.5 L1016.3,239.5 L1017.3,239.6 L1018.3,239.6 L1019.3,239.6 L1020.3,239.7 L1021.3,239.7 L1022.3,239.8 L1023.3,239.8 L1024.3,239.9 L1025.3,239.9 L1026.3,240.0 L1027.3,240.0 L1028.3,240.0 L1029.3,240.1 L1030.3,240.1 L1031.3,240.2 L1032.3,240.2 L1033.3,240.3 L1034.3,240.3 L1035.3,240.4 L1036.3,240.4 L1037.3,240.5 L1038.3,240.5 L1039.3,240.6 L1040.3,240.6 L1041.3,240.7 L1042.3,240.7 L1043.3,240.7 L1044.3,240.8 L1045.3,240.8 L1046.3,240.9 L1047.3,240.9 L1048.3,241.0 L1049.3,241.0 L1050.3,241.1 L1051.3,241.1 L1052.3,241.2 L1053.3,241.2 L1054.3,241.2 L1055.3,241.3 L1056.3,241.3 L1057.3,241.4 L1058.3,241.4 L1059.3,241.5 L1060.3,241.5 L1061.3,241.5 L1062.3,241.6 L1063.3,241.6 L1064.3,241.6 L1065.3,241.7 L1066.3,241.7 L1067.3,241.7 L1068.3,241.7 L1069.3,241.7 L1070.3,241.8 L1071.3,241.8 L1072.3,241.8 L1073.3,241.8 L1074.3,241.9 L1075.3,241.9 L1076.3,241.9 L1077.3,242.0 L1078.3,242.0 L1079.3,242.0 L1080.3,242.0 L1081.3,242.1 L1082.3,242.1 L1083.3,242.1 L1084.3,242.2 L1085.3,242.2 L1086.3,242.2 L1087.3,242.3 L1088.3,242.3 L1089.3,242.3 L1090.3,242.4 L1091.3,242.4 L1092.3,242.4 L1093.3,242.5 L1094.3,242.5 L1095.3,242.5 L1096.3,242.6 L1097.3,242.6 L1098.3,242.6 L1099.3,242.7 L1100.3,242.7 L1101.3,242.7 L1102.3,242.8 L1103.3,242.8 L1104.3,242.8 L1105.3,242.9 L1106.3,242.9 L1107.3,242.9 L1108.3,243.0 L1109.3,243.0 L1110.3,243.0 L1111.3,243.1 L1112.3,243.1 L1113.3,243.1 L1114.3,243.2 L1115.3,243.2 L1116.3,243.2 L1117.3,243.3 L1118.3,243.3 L1119.3,243.3 L1120.3,243.4 L1121.3,243.4 L1122.3,243.4 L1123.3,243.5 L1124.3,243.5 L1125.3,243.5 L1126.3,243.5 L1127.3,243.6 L1128.3,243.6 L1129.3,243.6 L1130.3,243.7 L1131.3,243.7 L1132.3,243.7 L1133.3,243.7 L1134.3,243.8 L1135.3,243.8 L1136.3,243.8 L1137.3,243.8 L1138.3,243.9 L1139.3,243.9 L1140.3,243.9 L1141.3,243.9 L1142.3,244.0 L1143.3,244.0 L1144.3,244.0 L1145.3,244.0 L1146.3,244.1 L1147.3,244.1 L1148.4,244.1 L1149.4,244.1 L1150.4,244.2 L1151.4,244.2 L1152.4,244.2 L1153.4,244.2 L1154.4,244.3 L1155.4,244.3 L1156.4,244.3 L1157.4,244.3 L1158.4,244.3 L1159.4,244.4 L1160.4,244.4 L1161.4,244.4 L1162.4,244.4 L1163.4,244.5 L1164.4,244.5 L1165.4,244.5 L1166.4,244.5 L1167.4,244.5 L1168.4,244.6 L1169.4,244.6 L1170.4,244.6 L1171.4,244.6 L1172.4,244.7 L1173.4,244.7 L1174.4,244.7 L1175.4,244.7 L1176.4,244.7 L1177.4,244.8 L1178.4,244.8 L1179.4,244.8 L1180.4,244.8 L1181.4,244.8 L1182.4,244.9 L1183.4,244.9 L1184.4,244.9 L1185.4,244.9 L1186.4,244.9 L1187.4,245.0 L1188.4,245.0 L1189.4,245.0 L1190.4,245.0 L1191.4,245.1 L1192.4,245.1 L1193.4,245.1 L1194.4,245.1 L1195.4,245.1 L1196.4,245.2 L1197.4,245.2 L1198.4,245.2 L1199.4,245.2 L1200.4,245.2 L1201.4,245.3 L1202.4,245.3 L1203.4,245.3 L1204.4,245.3 L1205.4,245.3 L1206.4,245.4 L1207.4,245.4 L1208.4,245.4 L1209.4,245.4 L1210.4,245.4 L1211.4,245.5 L1212.4,245.5 L1213.4,245.5 L1214.4,245.5 L1215.4,245.6 L1216.4,245.6 L1217.4,245.6 L1218.4,245.6 L1219.4,245.6 L1220.4,245.7 L1221.4,245.7 L1222.4,245.7 L1223.4,245.7 L1224.4,245.7 L1225.4,245.8 L1226.4,245.8 L1227.4,245.8 L1228.4,245.8 L1229.4,245.8 L1230.4,245.9 L1231.4,245.9 L1232.4,245.9 L1233.4,245.9 L1234.4,245.9 L1235.4,246.0 L1236.4,246.0 L1237.4,246.0 L1238.4,246.0 L1239.4,246.0 L1240.4,246.1 L1241.4,246.1 L1242.4,246.1 L1243.5,246.1 L1244.5,246.1 L1245.5,246.2 L1246.5,246.2 L1247.5,246.2 L1248.5,246.2 L1249.5,246.2 L1250.5,246.3 L1251.5,246.3 L1252.5,246.3 L1253.5,246.3 L1254.5,246.3 L1255.5,246.3 L1256.5,246.4 L1257.5,246.4 L1258.5,246.4 L1259.5,246.4 L1260.5,246.4 L1261.5,246.5 L1262.5,246.5 L1263.5,246.5 L1264.5,246.5 L1265.5,246.5 L1266.5,246.6 L1267.5,246.6 L1268.5,246.6 L1269.5,246.6 L1270.5,246.6 L1271.5,246.7 L1272.5,246.7 L1273.5,246.7 L1274.5,246.7 L1275.5,246.7 L1276.5,246.8 L1277.5,246.8 L1278.5,246.8 L1279.5,246.8 L1280.5,246.8 L1281.5,246.9 L1282.5,246.9 L1283.5,246.9 L1284.5,246.9 L1285.5,246.9 L1286.5,247.0 L1287.5,247.0 L1288.5,247.0 L1289.5,247.0" stroke="#bb1d21" stroke-dasharray="18.6 4.9 9.4 5.1" stroke-dashoffset="-10.2"/>
<path d="M767.7,430.8 L783.1,418.1 L798.4,388.8 L813.8,334.8 L829.1,260.3 L844.5,188.9 L859.8,145.9 L875.2,136.5 L890.5,141.4 L905.9,149.3 L921.2,156.1 L936.5,160.6 L951.9,164.6 L967.2,167.5 L982.6,169.5 L997.9,171.9 L1013.3,174.1 L1028.6,175.4 L1044.0,176.6 L1059.3,177.8 L1074.7,178.8 L1090.0,179.8 L1105.4,180.5 L1120.7,181.3 L1136.0,181.8 L1151.4,182.5 L1166.7,183.0 L1182.1,183.3 L1197.4,184.0 L1212.8,184.4 L1228.1,185.0 L1243.5,185.5 L1258.8,185.7 L1274.2,186.0 L1289.5,186.5" stroke="#3195a2" stroke-dasharray="18.5 5.5" stroke-dashoffset="12"/>
<path d="M767.7,417.6 L783.1,408.4 L798.4,396.8 L813.8,381.4 L829.1,358.0 L844.5,332.6 L859.8,302.3 L875.2,269.4 L890.5,238.8 L905.9,210.5 L921.2,186.9 L936.5,167.3 L951.9,150.5 L967.2,138.0 L982.6,126.7 L997.9,117.5 L1013.3,109.1 L1028.6,101.6 L1044.0,94.4 L1059.3,87.3 L1074.7,81.4 L1090.0,75.7 L1105.4,70.1 L1120.7,64.1 L1136.0,58.9 L1151.4,53.6 L1166.7,48.6 L1182.1,43.5" stroke="#bb1d21" stroke-dasharray="18.5 5.5" stroke-dashoffset="12"/>
</g>
<polygon points="764.45,425.18 771.05,425.18 773.20,428.08 773.20,433.48 771.05,436.38 764.45,436.38 762.30,433.48 762.30,428.08" fill="#3195a2"/>
<polygon points="779.79,412.55 786.39,412.55 788.54,415.45 788.54,420.85 786.39,423.75 779.79,423.75 777.64,420.85 777.64,415.45" fill="#3195a2"/>
<polygon points="795.14,383.24 801.74,383.24 803.89,386.14 803.89,391.54 801.74,394.44 795.14,394.44 792.99,391.54 792.99,386.14" fill="#3195a2"/>
<polygon points="810.48,329.17 817.08,329.17 819.23,332.07 819.23,337.47 817.08,340.37 810.48,340.37 808.33,337.47 808.33,332.07" fill="#3195a2"/>
<polygon points="825.83,254.72 832.43,254.72 834.58,257.62 834.58,263.02 832.43,265.92 825.83,265.92 823.68,263.02 823.68,257.62" fill="#3195a2"/>
<polygon points="841.17,183.30 847.77,183.30 849.92,186.20 849.92,191.60 847.77,194.50 841.17,194.50 839.02,191.60 839.02,186.20" fill="#3195a2"/>
<polygon points="856.52,140.35 863.12,140.35 865.27,143.25 865.27,148.65 863.12,151.55 856.52,151.55 854.37,148.65 854.37,143.25" fill="#3195a2"/>
<polygon points="871.87,130.92 878.47,130.92 880.62,133.82 880.62,139.22 878.47,142.12 871.87,142.12 869.72,139.22 869.72,133.82" fill="#3195a2"/>
<polygon points="887.21,135.80 893.81,135.80 895.96,138.70 895.96,144.10 893.81,147.00 887.21,147.00 885.06,144.10 885.06,138.70" fill="#3195a2"/>
<polygon points="902.56,143.72 909.16,143.72 911.31,146.62 911.31,152.02 909.16,154.92 902.56,154.92 900.41,152.02 900.41,146.62" fill="#3195a2"/>
<polygon points="917.90,150.45 924.50,150.45 926.65,153.35 926.65,158.75 924.50,161.65 917.90,161.65 915.75,158.75 915.75,153.35" fill="#3195a2"/>
<polygon points="933.25,155.00 939.85,155.00 942.00,157.90 942.00,163.30 939.85,166.20 933.25,166.20 931.10,163.30 931.10,157.90" fill="#3195a2"/>
<polygon points="948.59,159.04 955.19,159.04 957.34,161.94 957.34,167.34 955.19,170.24 948.59,170.24 946.44,167.34 946.44,161.94" fill="#3195a2"/>
<polygon points="963.94,161.91 970.54,161.91 972.69,164.81 972.69,170.21 970.54,173.11 963.94,173.11 961.79,170.21 961.79,164.81" fill="#3195a2"/>
<polygon points="979.29,163.93 985.89,163.93 988.04,166.83 988.04,172.23 985.89,175.13 979.29,175.13 977.14,172.23 977.14,166.83" fill="#3195a2"/>
<polygon points="994.63,166.29 1001.23,166.29 1003.38,169.19 1003.38,174.59 1001.23,177.49 994.63,177.49 992.48,174.59 992.48,169.19" fill="#3195a2"/>
<polygon points="1009.98,168.48 1016.58,168.48 1018.73,171.38 1018.73,176.78 1016.58,179.68 1009.98,179.68 1007.83,176.78 1007.83,171.38" fill="#3195a2"/>
<polygon points="1025.32,169.82 1031.92,169.82 1034.07,172.72 1034.07,178.12 1031.92,181.02 1025.32,181.02 1023.17,178.12 1023.17,172.72" fill="#3195a2"/>
<polygon points="1040.67,171.00 1047.27,171.00 1049.42,173.90 1049.42,179.30 1047.27,182.20 1040.67,182.20 1038.52,179.30 1038.52,173.90" fill="#3195a2"/>
<polygon points="1056.01,172.18 1062.61,172.18 1064.76,175.08 1064.76,180.48 1062.61,183.38 1056.01,183.38 1053.86,180.48 1053.86,175.08" fill="#3195a2"/>
<polygon points="1071.36,173.19 1077.96,173.19 1080.11,176.09 1080.11,181.49 1077.96,184.39 1071.36,184.39 1069.21,181.49 1069.21,176.09" fill="#3195a2"/>
<polygon points="1086.71,174.20 1093.31,174.20 1095.46,177.10 1095.46,182.50 1093.31,185.40 1086.71,185.40 1084.56,182.50 1084.56,177.10" fill="#3195a2"/>
<polygon points="1102.05,174.88 1108.65,174.88 1110.80,177.78 1110.80,183.18 1108.65,186.08 1102.05,186.08 1099.90,183.18 1099.90,177.78" fill="#3195a2"/>
<polygon points="1117.40,175.72 1124.00,175.72 1126.15,178.62 1126.15,184.02 1124.00,186.92 1117.40,186.92 1115.25,184.02 1115.25,178.62" fill="#3195a2"/>
<polygon points="1132.74,176.23 1139.34,176.23 1141.49,179.13 1141.49,184.53 1139.34,187.43 1132.74,187.43 1130.59,184.53 1130.59,179.13" fill="#3195a2"/>
<polygon points="1148.09,176.90 1154.69,176.90 1156.84,179.80 1156.84,185.20 1154.69,188.10 1148.09,188.10 1145.94,185.20 1145.94,179.80" fill="#3195a2"/>
<polygon points="1163.43,177.40 1170.03,177.40 1172.18,180.30 1172.18,185.70 1170.03,188.60 1163.43,188.60 1161.28,185.70 1161.28,180.30" fill="#3195a2"/>
<polygon points="1178.78,177.74 1185.38,177.74 1187.53,180.64 1187.53,186.04 1185.38,188.94 1178.78,188.94 1176.63,186.04 1176.63,180.64" fill="#3195a2"/>
<polygon points="1194.13,178.42 1200.73,178.42 1202.88,181.32 1202.88,186.72 1200.73,189.62 1194.13,189.62 1191.98,186.72 1191.98,181.32" fill="#3195a2"/>
<polygon points="1209.47,178.75 1216.07,178.75 1218.22,181.65 1218.22,187.05 1216.07,189.95 1209.47,189.95 1207.32,187.05 1207.32,181.65" fill="#3195a2"/>
<polygon points="1224.82,179.43 1231.42,179.43 1233.57,182.33 1233.57,187.73 1231.42,190.63 1224.82,190.63 1222.67,187.73 1222.67,182.33" fill="#3195a2"/>
<polygon points="1240.16,179.93 1246.76,179.93 1248.91,182.83 1248.91,188.23 1246.76,191.13 1240.16,191.13 1238.01,188.23 1238.01,182.83" fill="#3195a2"/>
<polygon points="1255.51,180.10 1262.11,180.10 1264.26,183.00 1264.26,188.40 1262.11,191.30 1255.51,191.30 1253.36,188.40 1253.36,183.00" fill="#3195a2"/>
<polygon points="1270.85,180.44 1277.45,180.44 1279.60,183.34 1279.60,188.74 1277.45,191.64 1270.85,191.64 1268.70,188.74 1268.70,183.34" fill="#3195a2"/>
<polygon points="1286.20,180.94 1292.80,180.94 1294.95,183.84 1294.95,189.24 1292.80,192.14 1286.20,192.14 1284.05,189.24 1284.05,183.84" fill="#3195a2"/>
<polygon points="764.45,412.04 771.05,412.04 773.20,414.94 773.20,420.34 771.05,423.24 764.45,423.24 762.30,420.34 762.30,414.94" fill="#bb1d21"/>
<polygon points="779.79,402.78 786.39,402.78 788.54,405.68 788.54,411.08 786.39,413.98 779.79,413.98 777.64,411.08 777.64,405.68" fill="#bb1d21"/>
<polygon points="795.14,391.15 801.74,391.15 803.89,394.05 803.89,399.45 801.74,402.35 795.14,402.35 792.99,399.45 792.99,394.05" fill="#bb1d21"/>
<polygon points="810.48,375.83 817.08,375.83 819.23,378.73 819.23,384.13 817.08,387.03 810.48,387.03 808.33,384.13 808.33,378.73" fill="#bb1d21"/>
<polygon points="825.83,352.41 832.43,352.41 834.58,355.31 834.58,360.71 832.43,363.61 825.83,363.61 823.68,360.71 823.68,355.31" fill="#bb1d21"/>
<polygon points="841.17,326.98 847.77,326.98 849.92,329.88 849.92,335.28 847.77,338.18 841.17,338.18 839.02,335.28 839.02,329.88" fill="#bb1d21"/>
<polygon points="856.52,296.66 863.12,296.66 865.27,299.56 865.27,304.96 863.12,307.86 856.52,307.86 854.37,304.96 854.37,299.56" fill="#bb1d21"/>
<polygon points="871.87,263.81 878.47,263.81 880.62,266.71 880.62,272.11 878.47,275.01 871.87,275.01 869.72,272.11 869.72,266.71" fill="#bb1d21"/>
<polygon points="887.21,233.16 893.81,233.16 895.96,236.06 895.96,241.46 893.81,244.36 887.21,244.36 885.06,241.46 885.06,236.06" fill="#bb1d21"/>
<polygon points="902.56,204.86 909.16,204.86 911.31,207.76 911.31,213.16 909.16,216.06 902.56,216.06 900.41,213.16 900.41,207.76" fill="#bb1d21"/>
<polygon points="917.90,181.28 924.50,181.28 926.65,184.18 926.65,189.58 924.50,192.48 917.90,192.48 915.75,189.58 915.75,184.18" fill="#bb1d21"/>
<polygon points="933.25,161.74 939.85,161.74 942.00,164.64 942.00,170.04 939.85,172.94 933.25,172.94 931.10,170.04 931.10,164.64" fill="#bb1d21"/>
<polygon points="948.59,144.90 955.19,144.90 957.34,147.80 957.34,153.20 955.19,156.10 948.59,156.10 946.44,153.20 946.44,147.80" fill="#bb1d21"/>
<polygon points="963.94,132.43 970.54,132.43 972.69,135.33 972.69,140.73 970.54,143.63 963.94,143.63 961.79,140.73 961.79,135.33" fill="#bb1d21"/>
<polygon points="979.29,121.15 985.89,121.15 988.04,124.05 988.04,129.45 985.89,132.35 979.29,132.35 977.14,129.45 977.14,124.05" fill="#bb1d21"/>
<polygon points="994.63,111.88 1001.23,111.88 1003.38,114.78 1003.38,120.18 1001.23,123.08 994.63,123.08 992.48,120.18 992.48,114.78" fill="#bb1d21"/>
<polygon points="1009.98,103.46 1016.58,103.46 1018.73,106.36 1018.73,111.76 1016.58,114.66 1009.98,114.66 1007.83,111.76 1007.83,106.36" fill="#bb1d21"/>
<polygon points="1025.32,96.05 1031.92,96.05 1034.07,98.95 1034.07,104.35 1031.92,107.25 1025.32,107.25 1023.17,104.35 1023.17,98.95" fill="#bb1d21"/>
<polygon points="1040.67,88.81 1047.27,88.81 1049.42,91.71 1049.42,97.11 1047.27,100.01 1040.67,100.01 1038.52,97.11 1038.52,91.71" fill="#bb1d21"/>
<polygon points="1056.01,81.73 1062.61,81.73 1064.76,84.63 1064.76,90.03 1062.61,92.93 1056.01,92.93 1053.86,90.03 1053.86,84.63" fill="#bb1d21"/>
<polygon points="1071.36,75.84 1077.96,75.84 1080.11,78.74 1080.11,84.14 1077.96,87.04 1071.36,87.04 1069.21,84.14 1069.21,78.74" fill="#bb1d21"/>
<polygon points="1086.71,70.11 1093.31,70.11 1095.46,73.01 1095.46,78.41 1093.31,81.31 1086.71,81.31 1084.56,78.41 1084.56,73.01" fill="#bb1d21"/>
<polygon points="1102.05,64.55 1108.65,64.55 1110.80,67.45 1110.80,72.85 1108.65,75.75 1102.05,75.75 1099.90,72.85 1099.90,67.45" fill="#bb1d21"/>
<polygon points="1117.40,58.49 1124.00,58.49 1126.15,61.39 1126.15,66.79 1124.00,69.69 1117.40,69.69 1115.25,66.79 1115.25,61.39" fill="#bb1d21"/>
<polygon points="1132.74,53.26 1139.34,53.26 1141.49,56.16 1141.49,61.56 1139.34,64.46 1132.74,64.46 1130.59,61.56 1130.59,56.16" fill="#bb1d21"/>
<polygon points="1148.09,48.04 1154.69,48.04 1156.84,50.94 1156.84,56.34 1154.69,59.24 1148.09,59.24 1145.94,56.34 1145.94,50.94" fill="#bb1d21"/>
<polygon points="1163.43,42.99 1170.03,42.99 1172.18,45.89 1172.18,51.29 1170.03,54.19 1163.43,54.19 1161.28,51.29 1161.28,45.89" fill="#bb1d21"/>
<rect x="752.4" y="49.6" width="537.10" height="421.10" fill="none" stroke="#262626" stroke-width="2.2"/>
<text x="752.40" y="498.6" text-anchor="middle" class="tk">0</text>
<text x="829.13" y="498.6" text-anchor="middle" class="tk">10</text>
<text x="905.86" y="498.6" text-anchor="middle" class="tk">20</text>
<text x="982.59" y="498.6" text-anchor="middle" class="tk">30</text>
<text x="1059.31" y="498.6" text-anchor="middle" class="tk">40</text>
<text x="1136.04" y="498.6" text-anchor="middle" class="tk">50</text>
<text x="1212.77" y="498.6" text-anchor="middle" class="tk">60</text>
<text x="1289.50" y="498.6" text-anchor="middle" class="tk">70</text>
<text x="742.20" y="477.60" text-anchor="end" class="tk">-5</text>
<text x="742.20" y="393.38" text-anchor="end" class="tk">0</text>
<text x="742.20" y="309.16" text-anchor="end" class="tk">5</text>
<text x="742.20" y="224.94" text-anchor="end" class="tk">10</text>
<text x="742.20" y="140.72" text-anchor="end" class="tk">15</text>
<text x="742.20" y="56.50" text-anchor="end" class="tk">20</text>
<text x="1020.95" y="527" text-anchor="middle" class="lb">Incidence Angle, deg</text>
<text transform="translate(709.00,260.15) rotate(-90)" text-anchor="middle" class="lb">Damping Ratio, dB</text>
<rect x="881.3" y="367.8" width="367.89999999999986" height="85.30000000000001" fill="#fff"/>
<line x1="892.9" y1="386.2" x2="966.3" y2="386.2" stroke="#bb1d21" stroke-width="4.7"/>
<line x1="892.9" y1="411.2" x2="929.5999999999999" y2="411.2" stroke="#bb1d21" stroke-width="4.7" stroke-dasharray="18.5 5.5"/>
<line x1="929.5999999999999" y1="411.2" x2="963.3" y2="411.2" stroke="#bb1d21" stroke-width="4.7" stroke-dasharray="18.5 5.5"/>
<polygon points="926.30,405.60 932.90,405.60 935.05,408.50 935.05,413.90 932.90,416.80 926.30,416.80 924.15,413.90 924.15,408.50" fill="#bb1d21"/>
<line x1="892.9" y1="436.2" x2="963.3" y2="436.2" stroke="#bb1d21" stroke-width="4.7" stroke-dasharray="18.6 4.9 9.4 5.1"/>
<text x="973.8" y="392.7" class="lg">Mineral (BPM with Marangoni)</text>
<text x="973.8" y="417.7" class="lg">Mineral (AIEM with Marangoni)</text>
<text x="973.8" y="442.7" class="lg">Mineral (AIEM with MLB)</text>
<text x="0.6" y="23.9" class="hd">A</text>
<text x="683.5" y="23.9" class="hd">B</text>
</svg></body></html>
